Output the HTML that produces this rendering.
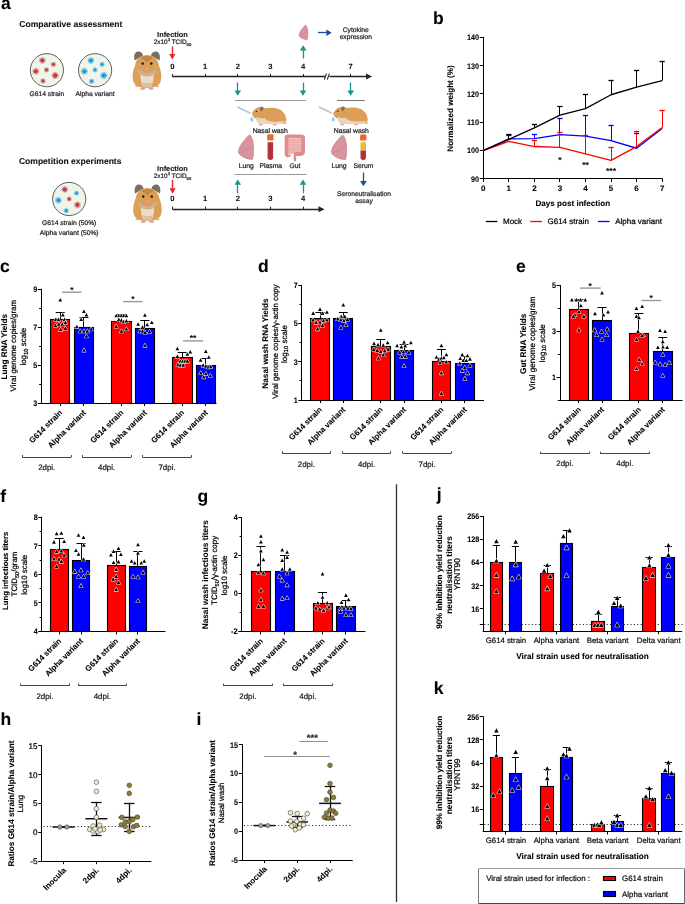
<!DOCTYPE html>
<html><head><meta charset="utf-8"><title>Figure</title>
<style>html,body{margin:0;padding:0;background:#fff;}body{width:685px;height:904px;overflow:hidden;}svg{display:block;font-family:"Liberation Sans", sans-serif;will-change:transform;}</style></head>
<body>
<svg width="685" height="904" viewBox="0 0 685 904" text-rendering="geometricPrecision" font-family='"Liberation Sans", sans-serif'>
<rect width="685" height="904" fill="#fff"/>
<text x="1.00" y="9.40" font-size="17.5" font-weight="bold" text-anchor="start" fill="#000" stroke="#000" stroke-width="0.08">a</text>
<text x="19.30" y="27.20" font-size="8.55" font-weight="bold" text-anchor="start" fill="#111" stroke="#111" stroke-width="0.08">Comparative assessment</text>
<text x="18.90" y="164.10" font-size="8.55" font-weight="bold" text-anchor="start" fill="#111" stroke="#111" stroke-width="0.08">Competition experiments</text>
<circle cx="46.9" cy="70.2" r="16.6" fill="#f0f5ea" stroke="#5e5e5e" stroke-width="1"/>
<path d="M44.00 60.50L45.71 60.50M43.84 61.24L45.37 61.98M43.36 61.83L44.43 63.17M42.68 62.16L43.06 63.82M41.92 62.16L41.54 63.82M41.24 61.83L40.17 63.17M40.76 61.24L39.23 61.98M40.59 60.50L38.89 60.50M40.76 59.76L39.23 59.02M41.24 59.17L40.17 57.83M41.92 58.84L41.54 57.18M42.68 58.84L43.06 57.18M43.36 59.17L44.43 57.83M43.84 59.76L45.37 59.02" stroke="#be3b46" stroke-width="0.7" fill="none" opacity="0.8"/>
<circle cx="42.30" cy="60.50" r="1.98" fill="#be3b46"/>
<path d="M54.66 64.40L55.93 64.40M54.54 64.95L55.68 65.50M54.19 65.39L54.98 66.38M53.68 65.63L53.96 66.87M53.12 65.63L52.84 66.87M52.61 65.39L51.82 66.38M52.26 64.95L51.12 65.50M52.13 64.40L50.87 64.40M52.26 63.85L51.12 63.30M52.61 63.41L51.82 62.42M53.12 63.17L52.84 61.93M53.68 63.17L53.96 61.93M54.19 63.41L54.98 62.42M54.54 63.85L55.68 63.30" stroke="#be3b46" stroke-width="0.7" fill="none" opacity="0.8"/>
<circle cx="53.40" cy="64.40" r="1.47" fill="#be3b46"/>
<path d="M37.56 71.30L39.32 71.30M37.39 72.06L38.97 72.83M36.90 72.68L37.99 74.05M36.19 73.02L36.58 74.73M35.41 73.02L35.02 74.73M34.70 72.68L33.61 74.05M34.21 72.06L32.63 72.83M34.04 71.30L32.28 71.30M34.21 70.54L32.63 69.77M34.70 69.92L33.61 68.55M35.41 69.58L35.02 67.87M36.19 69.58L36.58 67.87M36.90 69.92L37.99 68.55M37.39 70.54L38.97 69.77" stroke="#be3b46" stroke-width="0.7" fill="none" opacity="0.8"/>
<circle cx="35.80" cy="71.30" r="2.04" fill="#be3b46"/>
<path d="M47.77 69.90L49.03 69.90M47.64 70.45L48.78 71.00M47.29 70.89L48.08 71.88M46.78 71.13L47.06 72.37M46.22 71.13L45.94 72.37M45.71 70.89L44.92 71.88M45.36 70.45L44.22 71.00M45.23 69.90L43.97 69.90M45.36 69.35L44.22 68.80M45.71 68.91L44.92 67.92M46.22 68.67L45.94 67.43M46.78 68.67L47.06 67.43M47.29 68.91L48.08 67.92M47.64 69.35L48.78 68.80" stroke="#be3b46" stroke-width="0.7" fill="none" opacity="0.8"/>
<circle cx="46.50" cy="69.90" r="1.47" fill="#be3b46"/>
<path d="M57.07 75.50L58.94 75.50M56.88 76.31L58.57 77.12M56.37 76.96L57.53 78.42M55.62 77.32L56.03 79.15M54.78 77.32L54.37 79.15M54.03 76.96L52.87 78.42M53.52 76.31L51.83 77.12M53.33 75.50L51.46 75.50M53.52 74.69L51.83 73.88M54.03 74.04L52.87 72.58M54.78 73.68L54.37 71.85M55.62 73.68L56.03 71.85M56.37 74.04L57.53 72.58M56.88 74.69L58.57 73.88" stroke="#be3b46" stroke-width="0.7" fill="none" opacity="0.8"/>
<circle cx="55.20" cy="75.50" r="2.17" fill="#be3b46"/>
<path d="M44.27 81.00L45.53 81.00M44.14 81.55L45.28 82.10M43.79 81.99L44.58 82.98M43.28 82.23L43.56 83.47M42.72 82.23L42.44 83.47M42.21 81.99L41.42 82.98M41.86 81.55L40.72 82.10M41.73 81.00L40.47 81.00M41.86 80.45L40.72 79.90M42.21 80.01L41.42 79.02M42.72 79.77L42.44 78.53M43.28 79.77L43.56 78.53M43.79 80.01L44.58 79.02M44.14 80.45L45.28 79.90" stroke="#be3b46" stroke-width="0.7" fill="none" opacity="0.8"/>
<circle cx="43.00" cy="81.00" r="1.47" fill="#be3b46"/>
<circle cx="95.1" cy="70.2" r="16.6" fill="#f0f5ea" stroke="#5e5e5e" stroke-width="1"/>
<path d="M92.61 60.50L94.31 60.50M92.44 61.24L93.97 61.98M91.96 61.83L93.03 63.17M91.28 62.16L91.66 63.82M90.52 62.16L90.14 63.82M89.84 61.83L88.77 63.17M89.36 61.24L87.83 61.98M89.20 60.50L87.49 60.50M89.36 59.76L87.83 59.02M89.84 59.17L88.77 57.83M90.52 58.84L90.14 57.18M91.28 58.84L91.66 57.18M91.96 59.17L93.03 57.83M92.44 59.76L93.97 59.02" stroke="#1c9bd7" stroke-width="0.7" fill="none" opacity="0.8"/>
<circle cx="90.90" cy="60.50" r="1.98" fill="#1c9bd7"/>
<path d="M103.27 64.40L104.53 64.40M103.14 64.95L104.28 65.50M102.79 65.39L103.58 66.38M102.28 65.63L102.56 66.87M101.72 65.63L101.44 66.87M101.21 65.39L100.42 66.38M100.86 64.95L99.72 65.50M100.73 64.40L99.47 64.40M100.86 63.85L99.72 63.30M101.21 63.41L100.42 62.42M101.72 63.17L101.44 61.93M102.28 63.17L102.56 61.93M102.79 63.41L103.58 62.42M103.14 63.85L104.28 63.30" stroke="#1c9bd7" stroke-width="0.7" fill="none" opacity="0.8"/>
<circle cx="102.00" cy="64.40" r="1.47" fill="#1c9bd7"/>
<path d="M86.22 71.30L88.03 71.30M86.04 72.09L87.67 72.87M85.53 72.72L86.66 74.14M84.80 73.07L85.21 74.84M84.00 73.07L83.59 74.84M83.27 72.72L82.14 74.14M82.76 72.09L81.13 72.87M82.59 71.30L80.77 71.30M82.76 70.51L81.13 69.73M83.27 69.88L82.14 68.46M84.00 69.53L83.59 67.76M84.80 69.53L85.21 67.76M85.53 69.88L86.66 68.46M86.04 70.51L87.67 69.73" stroke="#1c9bd7" stroke-width="0.7" fill="none" opacity="0.8"/>
<circle cx="84.40" cy="71.30" r="2.11" fill="#1c9bd7"/>
<path d="M96.27 69.90L97.53 69.90M96.14 70.45L97.28 71.00M95.79 70.89L96.58 71.88M95.28 71.13L95.56 72.37M94.72 71.13L94.44 72.37M94.21 70.89L93.42 71.88M93.86 70.45L92.72 71.00M93.73 69.90L92.47 69.90M93.86 69.35L92.72 68.80M94.21 68.91L93.42 67.92M94.72 68.67L94.44 67.43M95.28 68.67L95.56 67.43M95.79 68.91L96.58 67.92M96.14 69.35L97.28 68.80" stroke="#1c9bd7" stroke-width="0.7" fill="none" opacity="0.8"/>
<circle cx="95.00" cy="69.90" r="1.47" fill="#1c9bd7"/>
<path d="M105.67 75.50L107.54 75.50M105.48 76.31L107.17 77.12M104.97 76.96L106.13 78.42M104.22 77.32L104.63 79.15M103.38 77.32L102.97 79.15M102.63 76.96L101.47 78.42M102.12 76.31L100.43 77.12M101.93 75.50L100.06 75.50M102.12 74.69L100.43 73.88M102.63 74.04L101.47 72.58M103.38 73.68L102.97 71.85M104.22 73.68L104.63 71.85M104.97 74.04L106.13 72.58M105.48 74.69L107.17 73.88" stroke="#1c9bd7" stroke-width="0.7" fill="none" opacity="0.8"/>
<circle cx="103.80" cy="75.50" r="2.17" fill="#1c9bd7"/>
<path d="M92.86 81.30L94.13 81.30M92.74 81.85L93.88 82.40M92.39 82.29L93.18 83.28M91.88 82.53L92.16 83.77M91.32 82.53L91.04 83.77M90.81 82.29L90.02 83.28M90.46 81.85L89.32 82.40M90.33 81.30L89.07 81.30M90.46 80.75L89.32 80.20M90.81 80.31L90.02 79.32M91.32 80.07L91.04 78.83M91.88 80.07L92.16 78.83M92.39 80.31L93.18 79.32M92.74 80.75L93.88 80.20" stroke="#1c9bd7" stroke-width="0.7" fill="none" opacity="0.8"/>
<circle cx="91.60" cy="81.30" r="1.47" fill="#1c9bd7"/>
<text x="46.90" y="95.80" font-size="6.7" text-anchor="middle" fill="#222" stroke="#222" stroke-width="0.22">G614 strain</text>
<text x="95.10" y="95.80" font-size="6.7" text-anchor="middle" fill="#222" stroke="#222" stroke-width="0.22">Alpha variant</text>
<circle cx="69.2" cy="199.0" r="16.6" fill="#f0f5ea" stroke="#5e5e5e" stroke-width="1"/>
<path d="M66.50 189.40L68.21 189.40M66.34 190.14L67.87 190.88M65.86 190.73L66.93 192.07M65.18 191.06L65.56 192.72M64.42 191.06L64.04 192.72M63.74 190.73L62.67 192.07M63.26 190.14L61.73 190.88M63.09 189.40L61.39 189.40M63.26 188.66L61.73 187.92M63.74 188.07L62.67 186.73M64.42 187.74L64.04 186.08M65.18 187.74L65.56 186.08M65.86 188.07L66.93 186.73M66.34 188.66L67.87 187.92" stroke="#be3b46" stroke-width="0.7" fill="none" opacity="0.8"/>
<circle cx="64.80" cy="189.40" r="1.98" fill="#be3b46"/>
<path d="M70.41 199.00L71.62 199.00M70.29 199.52L71.38 200.05M69.95 199.95L70.71 200.89M69.47 200.18L69.74 201.36M68.93 200.18L68.66 201.36M68.45 199.95L67.69 200.89M68.11 199.52L67.02 200.05M67.99 199.00L66.78 199.00M68.11 198.48L67.02 197.95M68.45 198.05L67.69 197.11M68.93 197.82L68.66 196.64M69.47 197.82L69.74 196.64M69.95 198.05L70.71 197.11M70.29 198.48L71.38 197.95" stroke="#be3b46" stroke-width="0.7" fill="none" opacity="0.8"/>
<circle cx="69.20" cy="199.00" r="1.40" fill="#be3b46"/>
<path d="M79.16 204.90L80.92 204.90M78.99 205.66L80.57 206.43M78.50 206.28L79.59 207.65M77.79 206.62L78.18 208.33M77.01 206.62L76.62 208.33M76.30 206.28L75.21 207.65M75.81 205.66L74.23 206.43M75.64 204.90L73.88 204.90M75.81 204.14L74.23 203.37M76.30 203.52L75.21 202.15M77.01 203.18L76.62 201.47M77.79 203.18L78.18 201.47M78.50 203.52L79.59 202.15M78.99 204.14L80.57 203.37" stroke="#be3b46" stroke-width="0.7" fill="none" opacity="0.8"/>
<circle cx="77.40" cy="204.90" r="2.04" fill="#be3b46"/>
<path d="M60.16 200.20L61.92 200.20M59.99 200.96L61.57 201.73M59.50 201.58L60.59 202.95M58.79 201.92L59.18 203.63M58.01 201.92L57.62 203.63M57.30 201.58L56.21 202.95M56.81 200.96L55.23 201.73M56.64 200.20L54.88 200.20M56.81 199.44L55.23 198.67M57.30 198.82L56.21 197.45M58.01 198.48L57.62 196.77M58.79 198.48L59.18 196.77M59.50 198.82L60.59 197.45M59.99 199.44L61.57 198.67" stroke="#1c9bd7" stroke-width="0.7" fill="none" opacity="0.8"/>
<circle cx="58.40" cy="200.20" r="2.04" fill="#1c9bd7"/>
<path d="M77.71 193.20L78.92 193.20M77.59 193.72L78.68 194.25M77.25 194.15L78.01 195.09M76.77 194.38L77.04 195.56M76.23 194.38L75.96 195.56M75.75 194.15L74.99 195.09M75.41 193.72L74.32 194.25M75.29 193.20L74.08 193.20M75.41 192.68L74.32 192.15M75.75 192.25L74.99 191.31M76.23 192.02L75.96 190.84M76.77 192.02L77.04 190.84M77.25 192.25L78.01 191.31M77.59 192.68L78.68 192.15" stroke="#1c9bd7" stroke-width="0.7" fill="none" opacity="0.8"/>
<circle cx="76.50" cy="193.20" r="1.40" fill="#1c9bd7"/>
<path d="M67.56 210.70L68.83 210.70M67.44 211.25L68.58 211.80M67.09 211.69L67.88 212.68M66.58 211.93L66.86 213.17M66.02 211.93L65.74 213.17M65.51 211.69L64.72 212.68M65.16 211.25L64.02 211.80M65.03 210.70L63.77 210.70M65.16 210.15L64.02 209.60M65.51 209.71L64.72 208.72M66.02 209.47L65.74 208.23M66.58 209.47L66.86 208.23M67.09 209.71L67.88 208.72M67.44 210.15L68.58 209.60" stroke="#1c9bd7" stroke-width="0.7" fill="none" opacity="0.8"/>
<circle cx="66.30" cy="210.70" r="1.47" fill="#1c9bd7"/>
<text x="69.20" y="224.80" font-size="6.7" text-anchor="middle" fill="#222" stroke="#222" stroke-width="0.22">G614 strain (50%)</text>
<text x="69.20" y="235.00" font-size="6.7" text-anchor="middle" fill="#222" stroke="#222" stroke-width="0.22">Alpha variant (50%)</text>
<g transform="translate(132.30 51.00)">
<path d="M2.2 9.5 C1.2 5 2.2 1.2 5.5 0.6 C8 0.3 10 2 10.8 4.5 Z" fill="#78705f"/>
<path d="M27.2 9.5 C28.2 5 27.2 1.2 23.9 0.6 C21.4 0.3 19.4 2 18.6 4.5 Z" fill="#78705f"/>
<ellipse cx="10.6" cy="37.6" rx="2.6" ry="1.3" fill="#e6a197"/>
<ellipse cx="18.8" cy="37.6" rx="2.6" ry="1.3" fill="#e6a197"/>
<ellipse cx="4.6" cy="35.2" rx="2" ry="1.0" fill="#e8b0a5"/>
<ellipse cx="24.8" cy="35.2" rx="2" ry="1.0" fill="#e8b0a5"/>
<path d="M14.7 4.3 C21.5 4.3 25.8 8.5 26.6 14.5 C29 20 30 27 27.8 31.8 C25.8 35.6 21 36.8 14.7 36.8 C8.4 36.8 3.6 35.6 1.6 31.8 C-0.6 27 0.4 20 2.8 14.5 C3.6 8.5 7.9 4.3 14.7 4.3 Z" fill="#dd9f58"/>
<path d="M14.7 4.4 C17.8 4.4 19.8 5.6 20.6 7.4 C18.2 8 16 9.6 14.7 11.8 C13.4 9.6 11.2 8 8.8 7.4 C9.6 5.6 11.6 4.4 14.7 4.4Z" fill="#c48647"/>
<path d="M8.4 21.5 C11.5 23.5 17.9 23.5 21 21.5 C21.8 26 21 31 19.2 35.2 C16.8 36.3 12.6 36.3 10.2 35.2 C8.4 31 7.6 26 8.4 21.5Z" fill="#ecdcc6"/>
<path d="M9.6 31.2 C12.3 32.4 17.1 32.4 19.8 31.2 C19.6 32.6 19.4 34 19.2 35.2 C16.8 36.3 12.6 36.3 10.2 35.2 C10 34 9.8 32.6 9.6 31.2Z" fill="#d8c2a6"/>
<path d="M4.6 17.6 L6 19.4 L7.2 18.4 L8.2 20.6 L9.6 19.8 L10.6 22 L12 21.2 L13 23 L14.7 22.2 L16.4 23 L17.4 21.2 L18.8 22 L19.8 19.8 L21.2 20.6 L22.2 18.4 L23.4 19.4 L24.8 17.6 C24 22.5 20.5 25.6 14.7 25.6 C8.9 25.6 5.4 22.5 4.6 17.6Z" fill="#c9b49a"/>
<path d="M13.4 22.6 Q14.7 23.6 16 22.6" stroke="#e39a9a" stroke-width="0.8" fill="none"/>
<ellipse cx="10.4" cy="12.6" rx="1.2" ry="1.4" fill="#1e1e1e"/>
<ellipse cx="19.0" cy="12.6" rx="1.2" ry="1.4" fill="#1e1e1e"/>
<ellipse cx="14.7" cy="17.4" rx="1.3" ry="1" fill="#eba1a0"/>
</g>
<g transform="translate(132.80 184.00)">
<path d="M2.2 9.5 C1.2 5 2.2 1.2 5.5 0.6 C8 0.3 10 2 10.8 4.5 Z" fill="#78705f"/>
<path d="M27.2 9.5 C28.2 5 27.2 1.2 23.9 0.6 C21.4 0.3 19.4 2 18.6 4.5 Z" fill="#78705f"/>
<ellipse cx="10.6" cy="37.6" rx="2.6" ry="1.3" fill="#e6a197"/>
<ellipse cx="18.8" cy="37.6" rx="2.6" ry="1.3" fill="#e6a197"/>
<ellipse cx="4.6" cy="35.2" rx="2" ry="1.0" fill="#e8b0a5"/>
<ellipse cx="24.8" cy="35.2" rx="2" ry="1.0" fill="#e8b0a5"/>
<path d="M14.7 4.3 C21.5 4.3 25.8 8.5 26.6 14.5 C29 20 30 27 27.8 31.8 C25.8 35.6 21 36.8 14.7 36.8 C8.4 36.8 3.6 35.6 1.6 31.8 C-0.6 27 0.4 20 2.8 14.5 C3.6 8.5 7.9 4.3 14.7 4.3 Z" fill="#dd9f58"/>
<path d="M14.7 4.4 C17.8 4.4 19.8 5.6 20.6 7.4 C18.2 8 16 9.6 14.7 11.8 C13.4 9.6 11.2 8 8.8 7.4 C9.6 5.6 11.6 4.4 14.7 4.4Z" fill="#c48647"/>
<path d="M8.4 21.5 C11.5 23.5 17.9 23.5 21 21.5 C21.8 26 21 31 19.2 35.2 C16.8 36.3 12.6 36.3 10.2 35.2 C8.4 31 7.6 26 8.4 21.5Z" fill="#ecdcc6"/>
<path d="M9.6 31.2 C12.3 32.4 17.1 32.4 19.8 31.2 C19.6 32.6 19.4 34 19.2 35.2 C16.8 36.3 12.6 36.3 10.2 35.2 C10 34 9.8 32.6 9.6 31.2Z" fill="#d8c2a6"/>
<path d="M4.6 17.6 L6 19.4 L7.2 18.4 L8.2 20.6 L9.6 19.8 L10.6 22 L12 21.2 L13 23 L14.7 22.2 L16.4 23 L17.4 21.2 L18.8 22 L19.8 19.8 L21.2 20.6 L22.2 18.4 L23.4 19.4 L24.8 17.6 C24 22.5 20.5 25.6 14.7 25.6 C8.9 25.6 5.4 22.5 4.6 17.6Z" fill="#c9b49a"/>
<path d="M13.4 22.6 Q14.7 23.6 16 22.6" stroke="#e39a9a" stroke-width="0.8" fill="none"/>
<ellipse cx="10.4" cy="12.6" rx="1.2" ry="1.4" fill="#1e1e1e"/>
<ellipse cx="19.0" cy="12.6" rx="1.2" ry="1.4" fill="#1e1e1e"/>
<ellipse cx="14.7" cy="17.4" rx="1.3" ry="1" fill="#eba1a0"/>
</g>
<text x="172.50" y="37.00" font-size="7.4" font-weight="bold" text-anchor="middle" fill="#111" stroke="#111" stroke-width="0.08">Infection</text>
<text x="172.50" y="44.00" font-size="6.4" text-anchor="middle" fill="#222" stroke="#222" stroke-width="0.22">2x10<tspan font-size="4.2" dy="-2.6">3</tspan><tspan dy="2.6"> TCID</tspan><tspan font-size="4.2" dy="1.6">50</tspan></text>
<text x="172.50" y="170.50" font-size="7.4" font-weight="bold" text-anchor="middle" fill="#111" stroke="#111" stroke-width="0.08">Infection</text>
<text x="172.50" y="178.00" font-size="6.4" text-anchor="middle" fill="#222" stroke="#222" stroke-width="0.22">2x10<tspan font-size="4.2" dy="-2.6">3</tspan><tspan dy="2.6"> TCID</tspan><tspan font-size="4.2" dy="1.6">50</tspan></text>
<line x1="172.50" y1="46.50" x2="172.50" y2="54.50" stroke="#e8232f" stroke-width="1.4"/>
<path d="M169.20 54.00L175.40 54.00L172.30 59.50Z" fill="#e8232f"/>
<line x1="172.50" y1="180.00" x2="172.50" y2="188.80" stroke="#e8232f" stroke-width="1.4"/>
<path d="M169.50 188.30L175.70 188.30L172.60 193.80Z" fill="#e8232f"/>
<line x1="172.30" y1="76.50" x2="367.00" y2="76.50" stroke="#222" stroke-width="1.3"/>
<path d="M366.00 73.60L372.00 76.60L366.00 79.60Z" fill="#222"/>
<line x1="172.50" y1="74.00" x2="172.50" y2="76.60" stroke="#222" stroke-width="1"/>
<text x="172.30" y="68.70" font-size="7.6" font-weight="bold" text-anchor="middle" fill="#111" stroke="#111" stroke-width="0.08">0</text>
<line x1="205.50" y1="74.00" x2="205.50" y2="76.60" stroke="#222" stroke-width="1"/>
<text x="205.00" y="68.70" font-size="7.6" font-weight="bold" text-anchor="middle" fill="#111" stroke="#111" stroke-width="0.08">1</text>
<line x1="237.50" y1="74.00" x2="237.50" y2="76.60" stroke="#222" stroke-width="1"/>
<text x="237.80" y="68.70" font-size="7.6" font-weight="bold" text-anchor="middle" fill="#111" stroke="#111" stroke-width="0.08">2</text>
<line x1="270.50" y1="74.00" x2="270.50" y2="76.60" stroke="#222" stroke-width="1"/>
<text x="270.40" y="68.70" font-size="7.6" font-weight="bold" text-anchor="middle" fill="#111" stroke="#111" stroke-width="0.08">3</text>
<line x1="303.50" y1="74.00" x2="303.50" y2="76.60" stroke="#222" stroke-width="1"/>
<text x="303.00" y="68.70" font-size="7.6" font-weight="bold" text-anchor="middle" fill="#111" stroke="#111" stroke-width="0.08">4</text>
<line x1="350.50" y1="74.00" x2="350.50" y2="76.60" stroke="#222" stroke-width="1"/>
<text x="350.70" y="68.70" font-size="7.6" font-weight="bold" text-anchor="middle" fill="#111" stroke="#111" stroke-width="0.08">7</text>
<line x1="172.50" y1="74.00" x2="172.50" y2="76.60" stroke="#222" stroke-width="1"/>
<rect x="325.00" y="73.60" width="4.5" height="6" fill="#fff"/>
<line x1="324.30" y1="79.60" x2="326.50" y2="73.60" stroke="#222" stroke-width="1.1"/>
<line x1="327.20" y1="79.60" x2="329.40" y2="73.60" stroke="#222" stroke-width="1.1"/>
<line x1="172.60" y1="209.50" x2="319.50" y2="209.50" stroke="#222" stroke-width="1.3"/>
<path d="M318.50 206.30L324.50 209.30L318.50 212.30Z" fill="#222"/>
<line x1="172.50" y1="206.70" x2="172.50" y2="209.30" stroke="#222" stroke-width="1"/>
<text x="172.30" y="201.40" font-size="7.6" font-weight="bold" text-anchor="middle" fill="#111" stroke="#111" stroke-width="0.08">0</text>
<line x1="205.50" y1="206.70" x2="205.50" y2="209.30" stroke="#222" stroke-width="1"/>
<text x="205.00" y="201.40" font-size="7.6" font-weight="bold" text-anchor="middle" fill="#111" stroke="#111" stroke-width="0.08">1</text>
<line x1="237.50" y1="206.70" x2="237.50" y2="209.30" stroke="#222" stroke-width="1"/>
<text x="237.80" y="201.40" font-size="7.6" font-weight="bold" text-anchor="middle" fill="#111" stroke="#111" stroke-width="0.08">2</text>
<line x1="270.50" y1="206.70" x2="270.50" y2="209.30" stroke="#222" stroke-width="1"/>
<text x="270.40" y="201.40" font-size="7.6" font-weight="bold" text-anchor="middle" fill="#111" stroke="#111" stroke-width="0.08">3</text>
<line x1="303.50" y1="206.70" x2="303.50" y2="209.30" stroke="#222" stroke-width="1"/>
<text x="303.00" y="201.40" font-size="7.6" font-weight="bold" text-anchor="middle" fill="#111" stroke="#111" stroke-width="0.08">4</text>
<line x1="172.50" y1="206.70" x2="172.50" y2="209.30" stroke="#222" stroke-width="1"/>
<line x1="237.50" y1="82.50" x2="237.50" y2="91.10" stroke="#17968f" stroke-width="1.3"/>
<path d="M234.50 90.60L241.10 90.60L237.80 95.80Z" fill="#17968f"/>
<line x1="303.50" y1="82.50" x2="303.50" y2="91.10" stroke="#17968f" stroke-width="1.3"/>
<path d="M299.70 90.60L306.30 90.60L303.00 95.80Z" fill="#17968f"/>
<line x1="350.50" y1="82.50" x2="350.50" y2="91.10" stroke="#17968f" stroke-width="1.3"/>
<path d="M347.40 90.60L354.00 90.60L350.70 95.80Z" fill="#17968f"/>
<line x1="303.50" y1="58.60" x2="303.50" y2="49.90" stroke="#17968f" stroke-width="1.3"/>
<path d="M299.90 50.40L306.50 50.40L303.20 45.20Z" fill="#17968f"/>
<line x1="237.50" y1="193.20" x2="237.50" y2="184.30" stroke="#17968f" stroke-width="1.3"/>
<path d="M234.50 184.80L241.10 184.80L237.80 179.60Z" fill="#17968f"/>
<line x1="303.50" y1="193.20" x2="303.50" y2="184.30" stroke="#17968f" stroke-width="1.3"/>
<path d="M299.70 184.80L306.30 184.80L303.00 179.60Z" fill="#17968f"/>
<g transform="translate(298.80 24.90) scale(0.594 0.596)">
<path d="M11.5 0.3 C13.8 2 15.2 7 15.4 13 C15.6 18.5 15.2 22.5 14.3 25 C11 25.3 7 23.8 4 22 C1.5 20.5 0 19 0.2 17 C0.5 13.5 3 9.5 6 6 C8 3.5 10 1.2 11.5 0.3Z" fill="#d8939c" stroke="#c57d87" stroke-width="0.6"/>
<path d="M2.5 18.5 C6 16 10 14 15 11" stroke="#c47a85" stroke-width="0.5" fill="none"/>
</g>
<line x1="318.00" y1="32.50" x2="326.90" y2="32.50" stroke="#1c4f91" stroke-width="1.3"/>
<path d="M326.40 29.40L326.40 36.00L331.60 32.70Z" fill="#1c4f91"/>
<text x="355.80" y="32.00" font-size="6.7" text-anchor="middle" fill="#222" stroke="#222" stroke-width="0.22">Cytokine</text>
<text x="355.80" y="39.00" font-size="6.7" text-anchor="middle" fill="#222" stroke="#222" stroke-width="0.22">expression</text>
<line x1="235.00" y1="100.50" x2="306.30" y2="100.50" stroke="#9a9a9a" stroke-width="1"/>
<line x1="337.00" y1="100.50" x2="364.80" y2="100.50" stroke="#777" stroke-width="1"/>
<line x1="234.50" y1="174.50" x2="306.40" y2="174.50" stroke="#9a9a9a" stroke-width="1"/>
<line x1="237.50" y1="107.00" x2="250.40" y2="113.20" stroke="#a9c6d6" stroke-width="1.6"/>
<path d="M251.80 116.70 C252.40 117.80 253.40 118.70 253.40 119.80 C253.40 120.80 252.60 121.40 251.80 121.40 C251.00 121.40 250.20 120.80 250.20 119.80 C250.20 118.70 251.20 117.80 251.80 116.70Z" fill="#8fcff0"/>
<g transform="translate(251.80 106.30)">
<ellipse cx="9" cy="18.2" rx="2" ry="0.9" fill="#e8a49a"/>
<ellipse cx="23" cy="18.3" rx="2.2" ry="0.9" fill="#e8a49a"/>
<ellipse cx="33.5" cy="17" rx="1.6" ry="0.8" fill="#e8a49a"/>
<path d="M0.3 6.8 C1.5 4 4 1.5 7.5 0.8 C10 0.4 12 1 13.5 2 C17 1.2 23 1.3 27.5 3 C32 5 34.5 9.5 34.5 13.5 C34.5 16.5 32 17.8 28 17.8 L10 17.8 C6.5 17.8 5 15 4.5 12.5 C2.5 11.5 0 10 0.3 6.8Z" fill="#dd9f58"/>
<path d="M4.5 10.5 C7 12 10 12.5 12.5 11.5 C14 14 18 15.5 24 15.5 C28 15.5 31 15 33 14.8 C32.5 16.8 30.5 17.8 28 17.8 L10 17.8 C7 17.8 5.5 15 4.5 12.5Z" fill="#e9d5bd"/>
<ellipse cx="9.8" cy="2.6" rx="1.7" ry="2.3" fill="#7b7466" transform="rotate(20 9.8 2.6)"/>
<circle cx="4.6" cy="5.2" r="0.8" fill="#222"/>
<circle cx="0.6" cy="7.2" r="0.7" fill="#e8a0a0"/>
</g>
<line x1="318.90" y1="107.00" x2="331.60" y2="113.00" stroke="#a9c6d6" stroke-width="1.6"/>
<path d="M333.20 116.70 C333.80 117.80 334.80 118.70 334.80 119.80 C334.80 120.80 334.00 121.40 333.20 121.40 C332.40 121.40 331.60 120.80 331.60 119.80 C331.60 118.70 332.60 117.80 333.20 116.70Z" fill="#8fcff0"/>
<g transform="translate(333.20 106.10)">
<ellipse cx="9" cy="18.2" rx="2" ry="0.9" fill="#e8a49a"/>
<ellipse cx="23" cy="18.3" rx="2.2" ry="0.9" fill="#e8a49a"/>
<ellipse cx="33.5" cy="17" rx="1.6" ry="0.8" fill="#e8a49a"/>
<path d="M0.3 6.8 C1.5 4 4 1.5 7.5 0.8 C10 0.4 12 1 13.5 2 C17 1.2 23 1.3 27.5 3 C32 5 34.5 9.5 34.5 13.5 C34.5 16.5 32 17.8 28 17.8 L10 17.8 C6.5 17.8 5 15 4.5 12.5 C2.5 11.5 0 10 0.3 6.8Z" fill="#dd9f58"/>
<path d="M4.5 10.5 C7 12 10 12.5 12.5 11.5 C14 14 18 15.5 24 15.5 C28 15.5 31 15 33 14.8 C32.5 16.8 30.5 17.8 28 17.8 L10 17.8 C7 17.8 5.5 15 4.5 12.5Z" fill="#e9d5bd"/>
<ellipse cx="9.8" cy="2.6" rx="1.7" ry="2.3" fill="#7b7466" transform="rotate(20 9.8 2.6)"/>
<circle cx="4.6" cy="5.2" r="0.8" fill="#222"/>
<circle cx="0.6" cy="7.2" r="0.7" fill="#e8a0a0"/>
</g>
<text x="270.20" y="132.90" font-size="6.8" text-anchor="middle" fill="#222" stroke="#222" stroke-width="0.22">Nasal wash</text>
<text x="351.30" y="132.90" font-size="6.8" text-anchor="middle" fill="#222" stroke="#222" stroke-width="0.22">Nasal wash</text>
<g transform="translate(238.20 134.40) scale(1.000 1.000)">
<path d="M11.5 0.3 C13.8 2 15.2 7 15.4 13 C15.6 18.5 15.2 22.5 14.3 25 C11 25.3 7 23.8 4 22 C1.5 20.5 0 19 0.2 17 C0.5 13.5 3 9.5 6 6 C8 3.5 10 1.2 11.5 0.3Z" fill="#d8939c" stroke="#c57d87" stroke-width="0.6"/>
<path d="M2.5 18.5 C6 16 10 14 15 11" stroke="#c47a85" stroke-width="0.5" fill="none"/>
</g>
<rect x="267.20" y="134.30" width="6.3" height="6.4" rx="1.2" fill="#e8692a"/>
<rect x="267.60" y="140.50" width="5.50" height="1.7" fill="#f4f0ee"/>
<path d="M267.60 142.20 L273.10 142.20 L273.10 158.50 Q270.35 161.60 267.60 158.50Z" fill="#b0323a"/>
<g transform="translate(284.50 134.40)">
<rect x="3.2" y="4" width="13.6" height="15.5" fill="#f3bcb7"/>
<circle cx="4.5" cy="5.6" r="0.75" fill="#e49c99"/>
<circle cx="5.4" cy="8.0" r="0.75" fill="#e49c99"/>
<circle cx="4.5" cy="10.4" r="0.75" fill="#e49c99"/>
<circle cx="5.4" cy="12.8" r="0.75" fill="#e49c99"/>
<circle cx="4.5" cy="15.2" r="0.75" fill="#e49c99"/>
<circle cx="5.4" cy="17.6" r="0.75" fill="#e49c99"/>
<circle cx="6.8" cy="5.6" r="0.75" fill="#e49c99"/>
<circle cx="7.7" cy="8.0" r="0.75" fill="#e49c99"/>
<circle cx="6.8" cy="10.4" r="0.75" fill="#e49c99"/>
<circle cx="7.7" cy="12.8" r="0.75" fill="#e49c99"/>
<circle cx="6.8" cy="15.2" r="0.75" fill="#e49c99"/>
<circle cx="7.7" cy="17.6" r="0.75" fill="#e49c99"/>
<circle cx="9.1" cy="5.6" r="0.75" fill="#e49c99"/>
<circle cx="10.0" cy="8.0" r="0.75" fill="#e49c99"/>
<circle cx="9.1" cy="10.4" r="0.75" fill="#e49c99"/>
<circle cx="10.0" cy="12.8" r="0.75" fill="#e49c99"/>
<circle cx="9.1" cy="15.2" r="0.75" fill="#e49c99"/>
<circle cx="10.0" cy="17.6" r="0.75" fill="#e49c99"/>
<circle cx="11.4" cy="5.6" r="0.75" fill="#e49c99"/>
<circle cx="12.3" cy="8.0" r="0.75" fill="#e49c99"/>
<circle cx="11.4" cy="10.4" r="0.75" fill="#e49c99"/>
<circle cx="12.3" cy="12.8" r="0.75" fill="#e49c99"/>
<circle cx="11.4" cy="15.2" r="0.75" fill="#e49c99"/>
<circle cx="12.3" cy="17.6" r="0.75" fill="#e49c99"/>
<circle cx="13.7" cy="5.6" r="0.75" fill="#e49c99"/>
<circle cx="14.6" cy="8.0" r="0.75" fill="#e49c99"/>
<circle cx="13.7" cy="10.4" r="0.75" fill="#e49c99"/>
<circle cx="14.6" cy="12.8" r="0.75" fill="#e49c99"/>
<circle cx="13.7" cy="15.2" r="0.75" fill="#e49c99"/>
<circle cx="14.6" cy="17.6" r="0.75" fill="#e49c99"/>
<circle cx="16.0" cy="5.6" r="0.75" fill="#e49c99"/>
<circle cx="16.9" cy="8.0" r="0.75" fill="#e49c99"/>
<circle cx="16.0" cy="10.4" r="0.75" fill="#e49c99"/>
<circle cx="16.9" cy="12.8" r="0.75" fill="#e49c99"/>
<circle cx="16.0" cy="15.2" r="0.75" fill="#e49c99"/>
<circle cx="16.9" cy="17.6" r="0.75" fill="#e49c99"/>
<path d="M2 21.2 L2 3.2 Q2 1.9 3.6 1.9 L16.9 1.9 Q18.6 1.9 18.6 3.6 L18.6 17.4 Q18.6 19.6 16 19.6 L11.5 19.6" stroke="#dc8d90" stroke-width="3.8" fill="none" stroke-linejoin="round"/>
<path d="M10.6 19 L10.4 25.8" stroke="#dc8d90" stroke-width="2.4" fill="none" stroke-linecap="round"/>
<path d="M2 21.5 Q3.5 22.5 5.5 21" stroke="#dc8d90" stroke-width="2" fill="none" stroke-linecap="round"/>
</g>
<g transform="translate(331.20 134.60) scale(1.000 1.000)">
<path d="M11.5 0.3 C13.8 2 15.2 7 15.4 13 C15.6 18.5 15.2 22.5 14.3 25 C11 25.3 7 23.8 4 22 C1.5 20.5 0 19 0.2 17 C0.5 13.5 3 9.5 6 6 C8 3.5 10 1.2 11.5 0.3Z" fill="#d8939c" stroke="#c57d87" stroke-width="0.6"/>
<path d="M2.5 18.5 C6 16 10 14 15 11" stroke="#c47a85" stroke-width="0.5" fill="none"/>
</g>
<rect x="360.10" y="134.40" width="6.3" height="6.4" rx="1.2" fill="#e8692a"/>
<rect x="360.50" y="140.60" width="5.50" height="1.7" fill="#f4f0ee"/>
<rect x="360.50" y="142.30" width="5.50" height="8.2" fill="#e8bd34"/>
<path d="M360.50 150.50 L366.00 150.50 L366.00 158.60 Q363.25 161.70 360.50 158.60Z" fill="#b0323a"/>
<text x="246.30" y="167.60" font-size="6.8" text-anchor="middle" fill="#222" stroke="#222" stroke-width="0.22">Lung</text>
<text x="270.80" y="167.60" font-size="6.8" text-anchor="middle" fill="#222" stroke="#222" stroke-width="0.22">Plasma</text>
<text x="295.00" y="167.60" font-size="6.8" text-anchor="middle" fill="#222" stroke="#222" stroke-width="0.22">Gut</text>
<text x="339.10" y="167.60" font-size="6.8" text-anchor="middle" fill="#222" stroke="#222" stroke-width="0.22">Lung</text>
<text x="363.50" y="167.60" font-size="6.8" text-anchor="middle" fill="#222" stroke="#222" stroke-width="0.22">Serum</text>
<line x1="363.50" y1="172.60" x2="363.50" y2="181.50" stroke="#1c4f91" stroke-width="1.3"/>
<path d="M360.10 181.00L366.70 181.00L363.40 186.20Z" fill="#1c4f91"/>
<text x="364.00" y="196.00" font-size="6.7" text-anchor="middle" fill="#222" stroke="#222" stroke-width="0.22">Seroneutralisation</text>
<text x="364.00" y="202.50" font-size="6.7" text-anchor="middle" fill="#222" stroke="#222" stroke-width="0.22">assay</text>
<text x="433.00" y="24.20" font-size="17.5" font-weight="bold" text-anchor="start" fill="#000" stroke="#000" stroke-width="0.08">b</text>
<line x1="483.50" y1="36.80" x2="483.50" y2="179.40" stroke="#000" stroke-width="1"/>
<line x1="482.70" y1="178.50" x2="662.75" y2="178.50" stroke="#000" stroke-width="1"/>
<line x1="479.80" y1="178.50" x2="483.30" y2="178.50" stroke="#000" stroke-width="1"/>
<text x="479.10" y="181.70" font-size="8.0" font-weight="bold" text-anchor="end" fill="#000" stroke="#000" stroke-width="0.08" textLength="8.0" lengthAdjust="spacingAndGlyphs">90</text>
<line x1="479.80" y1="150.50" x2="483.30" y2="150.50" stroke="#000" stroke-width="1"/>
<text x="479.10" y="153.40" font-size="8.0" font-weight="bold" text-anchor="end" fill="#000" stroke="#000" stroke-width="0.08" textLength="12.0" lengthAdjust="spacingAndGlyphs">100</text>
<line x1="479.80" y1="122.50" x2="483.30" y2="122.50" stroke="#000" stroke-width="1"/>
<text x="479.10" y="125.10" font-size="8.0" font-weight="bold" text-anchor="end" fill="#000" stroke="#000" stroke-width="0.08" textLength="12.0" lengthAdjust="spacingAndGlyphs">110</text>
<line x1="479.80" y1="93.50" x2="483.30" y2="93.50" stroke="#000" stroke-width="1"/>
<text x="479.10" y="96.80" font-size="8.0" font-weight="bold" text-anchor="end" fill="#000" stroke="#000" stroke-width="0.08" textLength="12.0" lengthAdjust="spacingAndGlyphs">120</text>
<line x1="479.80" y1="65.50" x2="483.30" y2="65.50" stroke="#000" stroke-width="1"/>
<text x="479.10" y="68.50" font-size="8.0" font-weight="bold" text-anchor="end" fill="#000" stroke="#000" stroke-width="0.08" textLength="12.0" lengthAdjust="spacingAndGlyphs">130</text>
<line x1="479.80" y1="37.50" x2="483.30" y2="37.50" stroke="#000" stroke-width="1"/>
<text x="479.10" y="40.20" font-size="8.0" font-weight="bold" text-anchor="end" fill="#000" stroke="#000" stroke-width="0.08" textLength="12.0" lengthAdjust="spacingAndGlyphs">140</text>
<line x1="483.50" y1="178.80" x2="483.50" y2="182.00" stroke="#000" stroke-width="1"/>
<text x="483.30" y="191.30" font-size="8" font-weight="bold" text-anchor="middle" fill="#000" stroke="#000" stroke-width="0.08">0</text>
<line x1="508.50" y1="178.80" x2="508.50" y2="182.00" stroke="#000" stroke-width="1"/>
<text x="508.85" y="191.30" font-size="8" font-weight="bold" text-anchor="middle" fill="#000" stroke="#000" stroke-width="0.08">1</text>
<line x1="534.50" y1="178.80" x2="534.50" y2="182.00" stroke="#000" stroke-width="1"/>
<text x="534.40" y="191.30" font-size="8" font-weight="bold" text-anchor="middle" fill="#000" stroke="#000" stroke-width="0.08">2</text>
<line x1="559.50" y1="178.80" x2="559.50" y2="182.00" stroke="#000" stroke-width="1"/>
<text x="559.95" y="191.30" font-size="8" font-weight="bold" text-anchor="middle" fill="#000" stroke="#000" stroke-width="0.08">3</text>
<line x1="585.50" y1="178.80" x2="585.50" y2="182.00" stroke="#000" stroke-width="1"/>
<text x="585.50" y="191.30" font-size="8" font-weight="bold" text-anchor="middle" fill="#000" stroke="#000" stroke-width="0.08">4</text>
<line x1="611.50" y1="178.80" x2="611.50" y2="182.00" stroke="#000" stroke-width="1"/>
<text x="611.05" y="191.30" font-size="8" font-weight="bold" text-anchor="middle" fill="#000" stroke="#000" stroke-width="0.08">5</text>
<line x1="636.50" y1="178.80" x2="636.50" y2="182.00" stroke="#000" stroke-width="1"/>
<text x="636.60" y="191.30" font-size="8" font-weight="bold" text-anchor="middle" fill="#000" stroke="#000" stroke-width="0.08">6</text>
<line x1="662.50" y1="178.80" x2="662.50" y2="182.00" stroke="#000" stroke-width="1"/>
<text x="662.15" y="191.30" font-size="8" font-weight="bold" text-anchor="middle" fill="#000" stroke="#000" stroke-width="0.08">7</text>
<text x="572.80" y="205.60" font-size="8.1" font-weight="bold" text-anchor="middle" fill="#000" stroke="#000" stroke-width="0.08">Days post infection</text>
<text x="453.20" y="108.50" font-size="8.1" font-weight="bold" text-anchor="middle" fill="#000" stroke="#000" stroke-width="0.08" transform="rotate(-90 453.20 108.50)">Normalized weight (%)</text>
<line x1="508.50" y1="138.90" x2="508.50" y2="135.22" stroke="#0000ff" stroke-width="1"/>
<line x1="506.25" y1="135.50" x2="511.45" y2="135.50" stroke="#0000ff" stroke-width="1.3"/>
<line x1="534.50" y1="138.61" x2="534.50" y2="134.09" stroke="#0000ff" stroke-width="1"/>
<line x1="531.80" y1="134.50" x2="537.00" y2="134.50" stroke="#0000ff" stroke-width="1.3"/>
<line x1="559.50" y1="134.65" x2="559.50" y2="118.52" stroke="#0000ff" stroke-width="1"/>
<line x1="557.35" y1="118.50" x2="562.55" y2="118.50" stroke="#0000ff" stroke-width="1.3"/>
<line x1="585.50" y1="136.07" x2="585.50" y2="115.69" stroke="#0000ff" stroke-width="1"/>
<line x1="582.90" y1="115.50" x2="588.10" y2="115.50" stroke="#0000ff" stroke-width="1.3"/>
<line x1="611.50" y1="140.59" x2="611.50" y2="125.31" stroke="#0000ff" stroke-width="1"/>
<line x1="608.45" y1="125.50" x2="613.65" y2="125.50" stroke="#0000ff" stroke-width="1.3"/>
<line x1="636.50" y1="148.24" x2="636.50" y2="133.24" stroke="#0000ff" stroke-width="1"/>
<line x1="634.00" y1="133.50" x2="639.20" y2="133.50" stroke="#0000ff" stroke-width="1.3"/>
<polyline points="483.30,150.50 508.85,138.90 534.40,138.61 559.95,134.65 585.50,136.07 611.05,140.59 636.60,148.24 662.15,128.43" fill="none" stroke="#0000ff" stroke-width="1.35" stroke-linejoin="round"/>
<line x1="534.50" y1="146.54" x2="534.50" y2="140.31" stroke="#ff0000" stroke-width="1"/>
<line x1="531.80" y1="140.50" x2="537.00" y2="140.50" stroke="#ff0000" stroke-width="1.3"/>
<line x1="559.50" y1="147.39" x2="559.50" y2="132.67" stroke="#ff0000" stroke-width="1"/>
<line x1="557.35" y1="132.50" x2="562.55" y2="132.50" stroke="#ff0000" stroke-width="1.3"/>
<line x1="585.50" y1="153.90" x2="585.50" y2="135.78" stroke="#ff0000" stroke-width="1"/>
<line x1="582.90" y1="135.50" x2="588.10" y2="135.50" stroke="#ff0000" stroke-width="1.3"/>
<line x1="611.50" y1="160.41" x2="611.50" y2="147.95" stroke="#ff0000" stroke-width="1"/>
<line x1="608.45" y1="147.50" x2="613.65" y2="147.50" stroke="#ff0000" stroke-width="1.3"/>
<line x1="636.50" y1="146.54" x2="636.50" y2="131.82" stroke="#ff0000" stroke-width="1"/>
<line x1="634.00" y1="131.50" x2="639.20" y2="131.50" stroke="#ff0000" stroke-width="1.3"/>
<line x1="662.50" y1="127.58" x2="662.50" y2="110.88" stroke="#ff0000" stroke-width="1"/>
<line x1="659.55" y1="110.50" x2="664.75" y2="110.50" stroke="#ff0000" stroke-width="1.3"/>
<polyline points="483.30,150.50 508.85,141.44 534.40,146.54 559.95,147.39 585.50,153.90 611.05,160.41 636.60,146.54 662.15,127.58" fill="none" stroke="#ff0000" stroke-width="1.35" stroke-linejoin="round"/>
<line x1="508.50" y1="139.46" x2="508.50" y2="134.94" stroke="#000" stroke-width="1"/>
<line x1="506.25" y1="134.50" x2="511.45" y2="134.50" stroke="#000" stroke-width="1.3"/>
<line x1="534.50" y1="127.86" x2="534.50" y2="124.18" stroke="#000" stroke-width="1"/>
<line x1="531.80" y1="124.50" x2="537.00" y2="124.50" stroke="#000" stroke-width="1.3"/>
<line x1="559.50" y1="115.12" x2="559.50" y2="106.07" stroke="#000" stroke-width="1"/>
<line x1="557.35" y1="106.50" x2="562.55" y2="106.50" stroke="#000" stroke-width="1.3"/>
<line x1="585.50" y1="108.62" x2="585.50" y2="94.75" stroke="#000" stroke-width="1"/>
<line x1="582.90" y1="94.50" x2="588.10" y2="94.50" stroke="#000" stroke-width="1.3"/>
<line x1="611.50" y1="94.75" x2="611.50" y2="80.88" stroke="#000" stroke-width="1"/>
<line x1="608.45" y1="80.50" x2="613.65" y2="80.50" stroke="#000" stroke-width="1.3"/>
<line x1="636.50" y1="87.11" x2="636.50" y2="70.41" stroke="#000" stroke-width="1"/>
<line x1="634.00" y1="70.50" x2="639.20" y2="70.50" stroke="#000" stroke-width="1.3"/>
<line x1="662.50" y1="80.60" x2="662.50" y2="61.36" stroke="#000" stroke-width="1"/>
<line x1="659.55" y1="61.50" x2="664.75" y2="61.50" stroke="#000" stroke-width="1.3"/>
<polyline points="483.30,150.50 508.85,139.46 534.40,127.86 559.95,115.12 585.50,108.62 611.05,94.75 636.60,87.11 662.15,80.60" fill="none" stroke="#000" stroke-width="1.35" stroke-linejoin="round"/>
<text x="559.95" y="163.42" font-size="8.6" font-weight="bold" text-anchor="middle" fill="#1a1a1a" stroke="#1a1a1a" stroke-width="0.08">*</text>
<text x="585.50" y="167.95" font-size="8.6" font-weight="bold" text-anchor="middle" fill="#1a1a1a" stroke="#1a1a1a" stroke-width="0.08">**</text>
<text x="611.05" y="173.61" font-size="8.6" font-weight="bold" text-anchor="middle" fill="#1a1a1a" stroke="#1a1a1a" stroke-width="0.08">***</text>
<line x1="485.80" y1="221.50" x2="497.40" y2="221.50" stroke="#000" stroke-width="1.3"/>
<text x="503.00" y="224.20" font-size="8" text-anchor="start" fill="#000" stroke="#000" stroke-width="0.22">Mock</text>
<line x1="530.30" y1="221.50" x2="541.90" y2="221.50" stroke="#ff0000" stroke-width="1.3"/>
<text x="547.50" y="224.20" font-size="8" text-anchor="start" fill="#000" stroke="#000" stroke-width="0.22">G614 strain</text>
<line x1="598.00" y1="221.50" x2="609.60" y2="221.50" stroke="#0000ff" stroke-width="1.3"/>
<text x="615.20" y="224.20" font-size="8" text-anchor="start" fill="#000" stroke="#000" stroke-width="0.22">Alpha variant</text>
<text x="0.00" y="272.00" font-size="17.5" font-weight="bold" text-anchor="start" fill="#000" stroke="#000" stroke-width="0.08">c</text>
<rect x="50.50" y="319.50" width="19.00" height="84.00" fill="#ff0000" stroke="#000" stroke-width="1.1"/>
<line x1="60.50" y1="319.65" x2="60.50" y2="312.25" stroke="#000" stroke-width="1"/>
<line x1="55.75" y1="312.50" x2="64.75" y2="312.50" stroke="#000" stroke-width="1"/>
<path d="M60.25 298.06L62.10 301.59L58.40 301.59Z" fill="#000" stroke="#fff" stroke-width="1.1" stroke-linejoin="round" paint-order="stroke" stroke-opacity="0.85"/>
<path d="M62.85 313.04L64.70 316.57L61.00 316.57Z" fill="#000" stroke="#fff" stroke-width="1.1" stroke-linejoin="round" paint-order="stroke" stroke-opacity="0.85"/>
<path d="M55.85 317.40L57.70 320.93L54.00 320.93Z" fill="#000" stroke="#fff" stroke-width="1.1" stroke-linejoin="round" paint-order="stroke" stroke-opacity="0.85"/>
<path d="M58.45 317.40L60.30 320.93L56.60 320.93Z" fill="#000" stroke="#fff" stroke-width="1.1" stroke-linejoin="round" paint-order="stroke" stroke-opacity="0.85"/>
<path d="M64.55 317.40L66.40 320.93L62.70 320.93Z" fill="#000" stroke="#fff" stroke-width="1.1" stroke-linejoin="round" paint-order="stroke" stroke-opacity="0.85"/>
<path d="M55.65 323.47L57.50 327.00L53.80 327.00Z" fill="#000" stroke="#fff" stroke-width="1.1" stroke-linejoin="round" paint-order="stroke" stroke-opacity="0.85"/>
<path d="M58.85 322.14L60.70 325.67L57.00 325.67Z" fill="#000" stroke="#fff" stroke-width="1.1" stroke-linejoin="round" paint-order="stroke" stroke-opacity="0.85"/>
<path d="M62.35 322.14L64.20 325.67L60.50 325.67Z" fill="#000" stroke="#fff" stroke-width="1.1" stroke-linejoin="round" paint-order="stroke" stroke-opacity="0.85"/>
<path d="M65.35 320.63L67.20 324.16L63.50 324.16Z" fill="#000" stroke="#fff" stroke-width="1.1" stroke-linejoin="round" paint-order="stroke" stroke-opacity="0.85"/>
<path d="M60.65 327.83L62.50 331.36L58.80 331.36Z" fill="#000" stroke="#fff" stroke-width="1.1" stroke-linejoin="round" paint-order="stroke" stroke-opacity="0.85"/>
<path d="M65.35 326.51L67.20 330.04L63.50 330.04Z" fill="#000" stroke="#fff" stroke-width="1.1" stroke-linejoin="round" paint-order="stroke" stroke-opacity="0.85"/>
<rect x="74.50" y="327.50" width="19.00" height="76.00" fill="#0000ff" stroke="#000" stroke-width="1.1"/>
<line x1="83.50" y1="327.23" x2="83.50" y2="317.37" stroke="#000" stroke-width="1"/>
<line x1="79.45" y1="317.50" x2="88.45" y2="317.50" stroke="#000" stroke-width="1"/>
<path d="M83.95 309.44L85.80 312.97L82.10 312.97Z" fill="#000" stroke="#fff" stroke-width="1.1" stroke-linejoin="round" paint-order="stroke" stroke-opacity="0.85"/>
<path d="M86.45 313.04L88.30 316.57L84.60 316.57Z" fill="#000" stroke="#fff" stroke-width="1.1" stroke-linejoin="round" paint-order="stroke" stroke-opacity="0.85"/>
<path d="M81.15 317.40L83.00 320.93L79.30 320.93Z" fill="#000" stroke="#fff" stroke-width="1.1" stroke-linejoin="round" paint-order="stroke" stroke-opacity="0.85"/>
<path d="M76.75 324.80L78.60 328.33L74.90 328.33Z" fill="#000" stroke="#fff" stroke-width="1.1" stroke-linejoin="round" paint-order="stroke" stroke-opacity="0.85"/>
<path d="M80.25 329.16L82.10 332.69L78.40 332.69Z" fill="#000" stroke="#fff" stroke-width="1.1" stroke-linejoin="round" paint-order="stroke" stroke-opacity="0.85"/>
<path d="M83.95 329.16L85.80 332.69L82.10 332.69Z" fill="#000" stroke="#fff" stroke-width="1.1" stroke-linejoin="round" paint-order="stroke" stroke-opacity="0.85"/>
<path d="M87.25 329.16L89.10 332.69L85.40 332.69Z" fill="#000" stroke="#fff" stroke-width="1.1" stroke-linejoin="round" paint-order="stroke" stroke-opacity="0.85"/>
<path d="M91.15 327.26L93.00 330.80L89.30 330.80Z" fill="#000" stroke="#fff" stroke-width="1.1" stroke-linejoin="round" paint-order="stroke" stroke-opacity="0.85"/>
<path d="M86.45 334.28L88.30 337.81L84.60 337.81Z" fill="#000" stroke="#fff" stroke-width="1.1" stroke-linejoin="round" paint-order="stroke" stroke-opacity="0.85"/>
<path d="M83.95 348.32L85.80 351.85L82.10 351.85Z" fill="#000" stroke="#fff" stroke-width="1.1" stroke-linejoin="round" paint-order="stroke" stroke-opacity="0.85"/>
<rect x="111.50" y="321.50" width="20.00" height="82.00" fill="#ff0000" stroke="#000" stroke-width="1.1"/>
<line x1="121.50" y1="321.16" x2="121.50" y2="314.91" stroke="#000" stroke-width="1"/>
<line x1="116.90" y1="314.50" x2="125.90" y2="314.50" stroke="#000" stroke-width="1"/>
<path d="M116.20 313.80L118.05 317.33L114.35 317.33Z" fill="#000" stroke="#fff" stroke-width="1.1" stroke-linejoin="round" paint-order="stroke" stroke-opacity="0.85"/>
<path d="M118.80 313.80L120.65 317.33L116.95 317.33Z" fill="#000" stroke="#fff" stroke-width="1.1" stroke-linejoin="round" paint-order="stroke" stroke-opacity="0.85"/>
<path d="M121.40 313.80L123.25 317.33L119.55 317.33Z" fill="#000" stroke="#fff" stroke-width="1.1" stroke-linejoin="round" paint-order="stroke" stroke-opacity="0.85"/>
<path d="M123.70 313.80L125.55 317.33L121.85 317.33Z" fill="#000" stroke="#fff" stroke-width="1.1" stroke-linejoin="round" paint-order="stroke" stroke-opacity="0.85"/>
<path d="M126.40 313.80L128.25 317.33L124.55 317.33Z" fill="#000" stroke="#fff" stroke-width="1.1" stroke-linejoin="round" paint-order="stroke" stroke-opacity="0.85"/>
<path d="M118.80 317.40L120.65 320.93L116.95 320.93Z" fill="#000" stroke="#fff" stroke-width="1.1" stroke-linejoin="round" paint-order="stroke" stroke-opacity="0.85"/>
<path d="M121.40 318.16L123.25 321.69L119.55 321.69Z" fill="#000" stroke="#fff" stroke-width="1.1" stroke-linejoin="round" paint-order="stroke" stroke-opacity="0.85"/>
<path d="M123.70 319.68L125.55 323.21L121.85 323.21Z" fill="#000" stroke="#fff" stroke-width="1.1" stroke-linejoin="round" paint-order="stroke" stroke-opacity="0.85"/>
<path d="M126.40 318.92L128.25 322.45L124.55 322.45Z" fill="#000" stroke="#fff" stroke-width="1.1" stroke-linejoin="round" paint-order="stroke" stroke-opacity="0.85"/>
<path d="M116.20 324.42L118.05 327.95L114.35 327.95Z" fill="#000" stroke="#fff" stroke-width="1.1" stroke-linejoin="round" paint-order="stroke" stroke-opacity="0.85"/>
<path d="M121.40 329.16L123.25 332.69L119.55 332.69Z" fill="#000" stroke="#fff" stroke-width="1.1" stroke-linejoin="round" paint-order="stroke" stroke-opacity="0.85"/>
<path d="M126.40 326.89L128.25 330.42L124.55 330.42Z" fill="#000" stroke="#fff" stroke-width="1.1" stroke-linejoin="round" paint-order="stroke" stroke-opacity="0.85"/>
<rect x="135.50" y="328.50" width="19.00" height="75.00" fill="#0000ff" stroke="#000" stroke-width="1.1"/>
<line x1="144.50" y1="328.18" x2="144.50" y2="320.60" stroke="#000" stroke-width="1"/>
<line x1="140.40" y1="320.50" x2="149.40" y2="320.50" stroke="#000" stroke-width="1"/>
<path d="M144.90 313.23L146.75 316.76L143.05 316.76Z" fill="#000" stroke="#fff" stroke-width="1.1" stroke-linejoin="round" paint-order="stroke" stroke-opacity="0.85"/>
<path d="M138.10 322.14L139.95 325.67L136.25 325.67Z" fill="#000" stroke="#fff" stroke-width="1.1" stroke-linejoin="round" paint-order="stroke" stroke-opacity="0.85"/>
<path d="M142.50 325.37L144.35 328.90L140.65 328.90Z" fill="#000" stroke="#fff" stroke-width="1.1" stroke-linejoin="round" paint-order="stroke" stroke-opacity="0.85"/>
<path d="M147.20 322.71L149.05 326.24L145.35 326.24Z" fill="#000" stroke="#fff" stroke-width="1.1" stroke-linejoin="round" paint-order="stroke" stroke-opacity="0.85"/>
<path d="M151.80 320.44L153.65 323.97L149.95 323.97Z" fill="#000" stroke="#fff" stroke-width="1.1" stroke-linejoin="round" paint-order="stroke" stroke-opacity="0.85"/>
<path d="M139.90 329.16L141.75 332.69L138.05 332.69Z" fill="#000" stroke="#fff" stroke-width="1.1" stroke-linejoin="round" paint-order="stroke" stroke-opacity="0.85"/>
<path d="M142.50 329.16L144.35 332.69L140.65 332.69Z" fill="#000" stroke="#fff" stroke-width="1.1" stroke-linejoin="round" paint-order="stroke" stroke-opacity="0.85"/>
<path d="M145.10 330.49L146.95 334.02L143.25 334.02Z" fill="#000" stroke="#fff" stroke-width="1.1" stroke-linejoin="round" paint-order="stroke" stroke-opacity="0.85"/>
<path d="M149.50 329.73L151.35 333.26L147.65 333.26Z" fill="#000" stroke="#fff" stroke-width="1.1" stroke-linejoin="round" paint-order="stroke" stroke-opacity="0.85"/>
<path d="M144.90 343.58L146.75 347.11L143.05 347.11Z" fill="#000" stroke="#fff" stroke-width="1.1" stroke-linejoin="round" paint-order="stroke" stroke-opacity="0.85"/>
<rect x="172.50" y="357.50" width="20.00" height="46.00" fill="#ff0000" stroke="#000" stroke-width="1.1"/>
<line x1="182.50" y1="357.58" x2="182.50" y2="352.46" stroke="#000" stroke-width="1"/>
<line x1="177.65" y1="352.50" x2="186.65" y2="352.50" stroke="#000" stroke-width="1"/>
<path d="M177.35 346.80L179.20 350.33L175.50 350.33Z" fill="#000" stroke="#fff" stroke-width="1.1" stroke-linejoin="round" paint-order="stroke" stroke-opacity="0.85"/>
<path d="M190.25 350.02L192.10 353.56L188.40 353.56Z" fill="#000" stroke="#fff" stroke-width="1.1" stroke-linejoin="round" paint-order="stroke" stroke-opacity="0.85"/>
<path d="M187.35 352.30L189.20 355.83L185.50 355.83Z" fill="#000" stroke="#fff" stroke-width="1.1" stroke-linejoin="round" paint-order="stroke" stroke-opacity="0.85"/>
<path d="M177.35 354.39L179.20 357.92L175.50 357.92Z" fill="#000" stroke="#fff" stroke-width="1.1" stroke-linejoin="round" paint-order="stroke" stroke-opacity="0.85"/>
<path d="M180.25 359.32L182.10 362.85L178.40 362.85Z" fill="#000" stroke="#fff" stroke-width="1.1" stroke-linejoin="round" paint-order="stroke" stroke-opacity="0.85"/>
<path d="M182.65 359.32L184.50 362.85L180.80 362.85Z" fill="#000" stroke="#fff" stroke-width="1.1" stroke-linejoin="round" paint-order="stroke" stroke-opacity="0.85"/>
<path d="M184.95 359.32L186.80 362.85L183.10 362.85Z" fill="#000" stroke="#fff" stroke-width="1.1" stroke-linejoin="round" paint-order="stroke" stroke-opacity="0.85"/>
<path d="M187.35 359.32L189.20 362.85L185.50 362.85Z" fill="#000" stroke="#fff" stroke-width="1.1" stroke-linejoin="round" paint-order="stroke" stroke-opacity="0.85"/>
<path d="M177.95 362.73L179.80 366.26L176.10 366.26Z" fill="#000" stroke="#fff" stroke-width="1.1" stroke-linejoin="round" paint-order="stroke" stroke-opacity="0.85"/>
<path d="M180.25 363.30L182.10 366.83L178.40 366.83Z" fill="#000" stroke="#fff" stroke-width="1.1" stroke-linejoin="round" paint-order="stroke" stroke-opacity="0.85"/>
<path d="M183.15 363.30L185.00 366.83L181.30 366.83Z" fill="#000" stroke="#fff" stroke-width="1.1" stroke-linejoin="round" paint-order="stroke" stroke-opacity="0.85"/>
<rect x="196.50" y="365.50" width="19.00" height="38.00" fill="#0000ff" stroke="#000" stroke-width="1.1"/>
<line x1="205.50" y1="365.17" x2="205.50" y2="358.15" stroke="#000" stroke-width="1"/>
<line x1="201.30" y1="358.50" x2="210.30" y2="358.50" stroke="#000" stroke-width="1"/>
<path d="M205.80 349.46L207.65 352.99L203.95 352.99Z" fill="#000" stroke="#fff" stroke-width="1.1" stroke-linejoin="round" paint-order="stroke" stroke-opacity="0.85"/>
<path d="M208.80 355.34L210.65 358.87L206.95 358.87Z" fill="#000" stroke="#fff" stroke-width="1.1" stroke-linejoin="round" paint-order="stroke" stroke-opacity="0.85"/>
<path d="M200.60 358.18L202.45 361.71L198.75 361.71Z" fill="#000" stroke="#fff" stroke-width="1.1" stroke-linejoin="round" paint-order="stroke" stroke-opacity="0.85"/>
<path d="M203.10 363.30L204.95 366.83L201.25 366.83Z" fill="#000" stroke="#fff" stroke-width="1.1" stroke-linejoin="round" paint-order="stroke" stroke-opacity="0.85"/>
<path d="M205.80 364.25L207.65 367.78L203.95 367.78Z" fill="#000" stroke="#fff" stroke-width="1.1" stroke-linejoin="round" paint-order="stroke" stroke-opacity="0.85"/>
<path d="M208.30 365.20L210.15 368.73L206.45 368.73Z" fill="#000" stroke="#fff" stroke-width="1.1" stroke-linejoin="round" paint-order="stroke" stroke-opacity="0.85"/>
<path d="M210.80 364.63L212.65 368.16L208.95 368.16Z" fill="#000" stroke="#fff" stroke-width="1.1" stroke-linejoin="round" paint-order="stroke" stroke-opacity="0.85"/>
<path d="M200.80 370.89L202.65 374.42L198.95 374.42Z" fill="#000" stroke="#fff" stroke-width="1.1" stroke-linejoin="round" paint-order="stroke" stroke-opacity="0.85"/>
<path d="M205.80 371.84L207.65 375.37L203.95 375.37Z" fill="#000" stroke="#fff" stroke-width="1.1" stroke-linejoin="round" paint-order="stroke" stroke-opacity="0.85"/>
<path d="M210.30 373.73L212.15 377.26L208.45 377.26Z" fill="#000" stroke="#fff" stroke-width="1.1" stroke-linejoin="round" paint-order="stroke" stroke-opacity="0.85"/>
<path d="M203.80 375.06L205.65 378.59L201.95 378.59Z" fill="#000" stroke="#fff" stroke-width="1.1" stroke-linejoin="round" paint-order="stroke" stroke-opacity="0.85"/>
<line x1="41.50" y1="288.80" x2="41.50" y2="403.60" stroke="#000" stroke-width="1"/>
<line x1="40.70" y1="403.50" x2="216.50" y2="403.50" stroke="#000" stroke-width="1"/>
<line x1="37.80" y1="403.50" x2="41.30" y2="403.50" stroke="#000" stroke-width="1"/>
<text x="37.30" y="406.00" font-size="8.0" font-weight="bold" text-anchor="end" fill="#000" stroke="#000" stroke-width="0.08" textLength="4.0" lengthAdjust="spacingAndGlyphs">3</text>
<line x1="37.80" y1="365.50" x2="41.30" y2="365.50" stroke="#000" stroke-width="1"/>
<text x="37.30" y="368.07" font-size="8.0" font-weight="bold" text-anchor="end" fill="#000" stroke="#000" stroke-width="0.08" textLength="4.0" lengthAdjust="spacingAndGlyphs">5</text>
<line x1="37.80" y1="327.50" x2="41.30" y2="327.50" stroke="#000" stroke-width="1"/>
<text x="37.30" y="330.13" font-size="8.0" font-weight="bold" text-anchor="end" fill="#000" stroke="#000" stroke-width="0.08" textLength="4.0" lengthAdjust="spacingAndGlyphs">7</text>
<line x1="37.80" y1="289.50" x2="41.30" y2="289.50" stroke="#000" stroke-width="1"/>
<text x="37.30" y="292.20" font-size="8.0" font-weight="bold" text-anchor="end" fill="#000" stroke="#000" stroke-width="0.08" textLength="4.0" lengthAdjust="spacingAndGlyphs">9</text>
<line x1="39.10" y1="384.50" x2="41.30" y2="384.50" stroke="#000" stroke-width="1"/>
<line x1="39.10" y1="346.50" x2="41.30" y2="346.50" stroke="#000" stroke-width="1"/>
<line x1="39.10" y1="308.50" x2="41.30" y2="308.50" stroke="#000" stroke-width="1"/>
<line x1="60.50" y1="403.10" x2="60.50" y2="406.10" stroke="#000" stroke-width="1"/>
<text x="62.75" y="413.10" font-size="7.9" font-weight="bold" text-anchor="end" fill="#000" stroke="#000" stroke-width="0.08" transform="rotate(-45 62.75 413.10)">G614 strain</text>
<line x1="83.50" y1="403.10" x2="83.50" y2="406.10" stroke="#000" stroke-width="1"/>
<text x="86.45" y="413.10" font-size="7.9" font-weight="bold" text-anchor="end" fill="#000" stroke="#000" stroke-width="0.08" transform="rotate(-45 86.45 413.10)">Alpha variant</text>
<line x1="121.50" y1="403.10" x2="121.50" y2="406.10" stroke="#000" stroke-width="1"/>
<text x="123.90" y="413.10" font-size="7.9" font-weight="bold" text-anchor="end" fill="#000" stroke="#000" stroke-width="0.08" transform="rotate(-45 123.90 413.10)">G614 strain</text>
<line x1="144.50" y1="403.10" x2="144.50" y2="406.10" stroke="#000" stroke-width="1"/>
<text x="147.40" y="413.10" font-size="7.9" font-weight="bold" text-anchor="end" fill="#000" stroke="#000" stroke-width="0.08" transform="rotate(-45 147.40 413.10)">Alpha variant</text>
<line x1="182.50" y1="403.10" x2="182.50" y2="406.10" stroke="#000" stroke-width="1"/>
<text x="184.65" y="413.10" font-size="7.9" font-weight="bold" text-anchor="end" fill="#000" stroke="#000" stroke-width="0.08" transform="rotate(-45 184.65 413.10)">G614 strain</text>
<line x1="205.50" y1="403.10" x2="205.50" y2="406.10" stroke="#000" stroke-width="1"/>
<text x="208.30" y="413.10" font-size="7.9" font-weight="bold" text-anchor="end" fill="#000" stroke="#000" stroke-width="0.08" transform="rotate(-45 208.30 413.10)">Alpha variant</text>
<line x1="22.40" y1="457.50" x2="71.00" y2="457.50" stroke="#444" stroke-width="1"/>
<line x1="22.50" y1="455.10" x2="22.50" y2="457.30" stroke="#444" stroke-width="1"/>
<line x1="71.50" y1="455.10" x2="71.50" y2="457.30" stroke="#444" stroke-width="1"/>
<text x="46.70" y="470.00" font-size="7.9" text-anchor="middle" fill="#1a1a1a" stroke="#1a1a1a" stroke-width="0.22">2dpi.</text>
<line x1="82.30" y1="457.50" x2="131.00" y2="457.50" stroke="#444" stroke-width="1"/>
<line x1="82.50" y1="455.10" x2="82.50" y2="457.30" stroke="#444" stroke-width="1"/>
<line x1="131.50" y1="455.10" x2="131.50" y2="457.30" stroke="#444" stroke-width="1"/>
<text x="106.65" y="470.00" font-size="7.9" text-anchor="middle" fill="#1a1a1a" stroke="#1a1a1a" stroke-width="0.22">4dpi.</text>
<line x1="142.70" y1="457.50" x2="191.40" y2="457.50" stroke="#444" stroke-width="1"/>
<line x1="142.50" y1="455.10" x2="142.50" y2="457.30" stroke="#444" stroke-width="1"/>
<line x1="191.50" y1="455.10" x2="191.50" y2="457.30" stroke="#444" stroke-width="1"/>
<text x="167.05" y="470.00" font-size="7.9" text-anchor="middle" fill="#1a1a1a" stroke="#1a1a1a" stroke-width="0.22">7dpi.</text>
<line x1="62.00" y1="292.20" x2="81.60" y2="292.20" stroke="#959595" stroke-width="1.35"/>
<text x="71.80" y="292.60" font-size="8.5" font-weight="bold" text-anchor="middle" fill="#111" stroke="#111" stroke-width="0.08">*</text>
<line x1="123.20" y1="301.60" x2="142.70" y2="301.60" stroke="#959595" stroke-width="1.35"/>
<text x="132.95" y="302.00" font-size="8.5" font-weight="bold" text-anchor="middle" fill="#111" stroke="#111" stroke-width="0.08">*</text>
<line x1="183.00" y1="340.90" x2="203.20" y2="340.90" stroke="#959595" stroke-width="1.35"/>
<text x="193.10" y="341.30" font-size="8.5" font-weight="bold" text-anchor="middle" fill="#111" stroke="#111" stroke-width="0.08">**</text>
<text x="7.00" y="346.70" font-size="8.2" font-weight="bold" text-anchor="middle" fill="#000" stroke="#000" stroke-width="0.08" transform="rotate(-90 7.00 346.70)">Lung RNA Yields</text>
<text x="16.30" y="345.70" font-size="7.9" text-anchor="middle" fill="#000" stroke="#000" stroke-width="0.22" transform="rotate(-90 16.30 345.70)">Viral genome copies/gram</text>
<text x="26.00" y="346.70" font-size="7.9" text-anchor="middle" fill="#000" stroke="#000" stroke-width="0.22" transform="rotate(-90 26.00 346.70)">log<tspan font-size="6" dy="1.6">10</tspan><tspan dy="-1.6"> scale</tspan></text>
<text x="258.00" y="271.90" font-size="17.5" font-weight="bold" text-anchor="start" fill="#000" stroke="#000" stroke-width="0.08">d</text>
<rect x="310.50" y="318.50" width="19.00" height="82.00" fill="#ff0000" stroke="#000" stroke-width="1.1"/>
<line x1="320.50" y1="318.21" x2="320.50" y2="312.09" stroke="#000" stroke-width="1"/>
<line x1="315.50" y1="312.50" x2="324.50" y2="312.50" stroke="#000" stroke-width="1"/>
<path d="M320.00 307.35L321.85 310.88L318.15 310.88Z" fill="#000" stroke="#fff" stroke-width="1.1" stroke-linejoin="round" paint-order="stroke" stroke-opacity="0.85"/>
<path d="M313.20 311.37L315.05 314.90L311.35 314.90Z" fill="#000" stroke="#fff" stroke-width="1.1" stroke-linejoin="round" paint-order="stroke" stroke-opacity="0.85"/>
<path d="M322.50 311.37L324.35 314.90L320.65 314.90Z" fill="#000" stroke="#fff" stroke-width="1.1" stroke-linejoin="round" paint-order="stroke" stroke-opacity="0.85"/>
<path d="M326.90 310.22L328.75 313.75L325.05 313.75Z" fill="#000" stroke="#fff" stroke-width="1.1" stroke-linejoin="round" paint-order="stroke" stroke-opacity="0.85"/>
<path d="M313.00 317.88L314.85 321.41L311.15 321.41Z" fill="#000" stroke="#fff" stroke-width="1.1" stroke-linejoin="round" paint-order="stroke" stroke-opacity="0.85"/>
<path d="M316.20 320.55L318.05 324.08L314.35 324.08Z" fill="#000" stroke="#fff" stroke-width="1.1" stroke-linejoin="round" paint-order="stroke" stroke-opacity="0.85"/>
<path d="M320.00 320.17L321.85 323.70L318.15 323.70Z" fill="#000" stroke="#fff" stroke-width="1.1" stroke-linejoin="round" paint-order="stroke" stroke-opacity="0.85"/>
<path d="M323.50 318.83L325.35 322.36L321.65 322.36Z" fill="#000" stroke="#fff" stroke-width="1.1" stroke-linejoin="round" paint-order="stroke" stroke-opacity="0.85"/>
<path d="M327.00 317.88L328.85 321.41L325.15 321.41Z" fill="#000" stroke="#fff" stroke-width="1.1" stroke-linejoin="round" paint-order="stroke" stroke-opacity="0.85"/>
<path d="M322.50 323.62L324.35 327.15L320.65 327.15Z" fill="#000" stroke="#fff" stroke-width="1.1" stroke-linejoin="round" paint-order="stroke" stroke-opacity="0.85"/>
<path d="M317.60 327.06L319.45 330.59L315.75 330.59Z" fill="#000" stroke="#fff" stroke-width="1.1" stroke-linejoin="round" paint-order="stroke" stroke-opacity="0.85"/>
<rect x="333.50" y="318.50" width="19.00" height="82.00" fill="#0000ff" stroke="#000" stroke-width="1.1"/>
<line x1="343.50" y1="318.21" x2="343.50" y2="312.85" stroke="#000" stroke-width="1"/>
<line x1="338.80" y1="312.50" x2="347.80" y2="312.50" stroke="#000" stroke-width="1"/>
<path d="M343.30 302.95L345.15 306.48L341.45 306.48Z" fill="#000" stroke="#fff" stroke-width="1.1" stroke-linejoin="round" paint-order="stroke" stroke-opacity="0.85"/>
<path d="M341.30 314.43L343.15 317.96L339.45 317.96Z" fill="#000" stroke="#fff" stroke-width="1.1" stroke-linejoin="round" paint-order="stroke" stroke-opacity="0.85"/>
<path d="M344.80 314.43L346.65 317.96L342.95 317.96Z" fill="#000" stroke="#fff" stroke-width="1.1" stroke-linejoin="round" paint-order="stroke" stroke-opacity="0.85"/>
<path d="M337.80 316.92L339.65 320.45L335.95 320.45Z" fill="#000" stroke="#fff" stroke-width="1.1" stroke-linejoin="round" paint-order="stroke" stroke-opacity="0.85"/>
<path d="M340.80 317.88L342.65 321.41L338.95 321.41Z" fill="#000" stroke="#fff" stroke-width="1.1" stroke-linejoin="round" paint-order="stroke" stroke-opacity="0.85"/>
<path d="M343.90 318.83L345.75 322.36L342.05 322.36Z" fill="#000" stroke="#fff" stroke-width="1.1" stroke-linejoin="round" paint-order="stroke" stroke-opacity="0.85"/>
<path d="M347.40 317.49L349.25 321.02L345.55 321.02Z" fill="#000" stroke="#fff" stroke-width="1.1" stroke-linejoin="round" paint-order="stroke" stroke-opacity="0.85"/>
<path d="M346.00 323.04L347.85 326.57L344.15 326.57Z" fill="#000" stroke="#fff" stroke-width="1.1" stroke-linejoin="round" paint-order="stroke" stroke-opacity="0.85"/>
<path d="M340.80 325.53L342.65 329.06L338.95 329.06Z" fill="#000" stroke="#fff" stroke-width="1.1" stroke-linejoin="round" paint-order="stroke" stroke-opacity="0.85"/>
<rect x="371.50" y="346.50" width="19.00" height="54.00" fill="#ff0000" stroke="#000" stroke-width="1.1"/>
<line x1="380.50" y1="346.34" x2="380.50" y2="339.06" stroke="#000" stroke-width="1"/>
<line x1="376.25" y1="339.50" x2="385.25" y2="339.50" stroke="#000" stroke-width="1"/>
<path d="M380.75 328.21L382.60 331.74L378.90 331.74Z" fill="#000" stroke="#fff" stroke-width="1.1" stroke-linejoin="round" paint-order="stroke" stroke-opacity="0.85"/>
<path d="M374.05 341.60L375.90 345.13L372.20 345.13Z" fill="#000" stroke="#fff" stroke-width="1.1" stroke-linejoin="round" paint-order="stroke" stroke-opacity="0.85"/>
<path d="M378.05 342.75L379.90 346.28L376.20 346.28Z" fill="#000" stroke="#fff" stroke-width="1.1" stroke-linejoin="round" paint-order="stroke" stroke-opacity="0.85"/>
<path d="M383.25 343.13L385.10 346.66L381.40 346.66Z" fill="#000" stroke="#fff" stroke-width="1.1" stroke-linejoin="round" paint-order="stroke" stroke-opacity="0.85"/>
<path d="M387.65 340.84L389.50 344.37L385.80 344.37Z" fill="#000" stroke="#fff" stroke-width="1.1" stroke-linejoin="round" paint-order="stroke" stroke-opacity="0.85"/>
<path d="M373.75 347.53L375.60 351.06L371.90 351.06Z" fill="#000" stroke="#fff" stroke-width="1.1" stroke-linejoin="round" paint-order="stroke" stroke-opacity="0.85"/>
<path d="M377.25 348.49L379.10 352.02L375.40 352.02Z" fill="#000" stroke="#fff" stroke-width="1.1" stroke-linejoin="round" paint-order="stroke" stroke-opacity="0.85"/>
<path d="M380.75 349.44L382.60 352.98L378.90 352.98Z" fill="#000" stroke="#fff" stroke-width="1.1" stroke-linejoin="round" paint-order="stroke" stroke-opacity="0.85"/>
<path d="M384.65 348.87L386.50 352.40L382.80 352.40Z" fill="#000" stroke="#fff" stroke-width="1.1" stroke-linejoin="round" paint-order="stroke" stroke-opacity="0.85"/>
<path d="M388.25 347.34L390.10 350.87L386.40 350.87Z" fill="#000" stroke="#fff" stroke-width="1.1" stroke-linejoin="round" paint-order="stroke" stroke-opacity="0.85"/>
<path d="M383.25 352.89L385.10 356.42L381.40 356.42Z" fill="#000" stroke="#fff" stroke-width="1.1" stroke-linejoin="round" paint-order="stroke" stroke-opacity="0.85"/>
<path d="M378.35 356.14L380.20 359.67L376.50 359.67Z" fill="#000" stroke="#fff" stroke-width="1.1" stroke-linejoin="round" paint-order="stroke" stroke-opacity="0.85"/>
<rect x="394.50" y="350.50" width="19.00" height="50.00" fill="#0000ff" stroke="#000" stroke-width="1.1"/>
<line x1="404.50" y1="350.93" x2="404.50" y2="344.04" stroke="#000" stroke-width="1"/>
<line x1="399.60" y1="344.50" x2="408.60" y2="344.50" stroke="#000" stroke-width="1"/>
<path d="M404.10 340.26L405.95 343.79L402.25 343.79Z" fill="#000" stroke="#fff" stroke-width="1.1" stroke-linejoin="round" paint-order="stroke" stroke-opacity="0.85"/>
<path d="M410.90 340.84L412.75 344.37L409.05 344.37Z" fill="#000" stroke="#fff" stroke-width="1.1" stroke-linejoin="round" paint-order="stroke" stroke-opacity="0.85"/>
<path d="M397.10 343.70L398.95 347.24L395.25 347.24Z" fill="#000" stroke="#fff" stroke-width="1.1" stroke-linejoin="round" paint-order="stroke" stroke-opacity="0.85"/>
<path d="M401.40 345.04L403.25 348.57L399.55 348.57Z" fill="#000" stroke="#fff" stroke-width="1.1" stroke-linejoin="round" paint-order="stroke" stroke-opacity="0.85"/>
<path d="M405.30 343.90L407.15 347.43L403.45 347.43Z" fill="#000" stroke="#fff" stroke-width="1.1" stroke-linejoin="round" paint-order="stroke" stroke-opacity="0.85"/>
<path d="M399.70 350.40L401.55 353.93L397.85 353.93Z" fill="#000" stroke="#fff" stroke-width="1.1" stroke-linejoin="round" paint-order="stroke" stroke-opacity="0.85"/>
<path d="M403.50 350.02L405.35 353.55L401.65 353.55Z" fill="#000" stroke="#fff" stroke-width="1.1" stroke-linejoin="round" paint-order="stroke" stroke-opacity="0.85"/>
<path d="M408.70 350.40L410.55 353.93L406.85 353.93Z" fill="#000" stroke="#fff" stroke-width="1.1" stroke-linejoin="round" paint-order="stroke" stroke-opacity="0.85"/>
<path d="M401.80 354.80L403.65 358.33L399.95 358.33Z" fill="#000" stroke="#fff" stroke-width="1.1" stroke-linejoin="round" paint-order="stroke" stroke-opacity="0.85"/>
<path d="M405.30 354.80L407.15 358.33L403.45 358.33Z" fill="#000" stroke="#fff" stroke-width="1.1" stroke-linejoin="round" paint-order="stroke" stroke-opacity="0.85"/>
<path d="M404.10 363.99L405.95 367.52L402.25 367.52Z" fill="#000" stroke="#fff" stroke-width="1.1" stroke-linejoin="round" paint-order="stroke" stroke-opacity="0.85"/>
<rect x="432.50" y="361.50" width="18.00" height="39.00" fill="#ff0000" stroke="#000" stroke-width="1.1"/>
<line x1="441.50" y1="361.26" x2="441.50" y2="349.21" stroke="#000" stroke-width="1"/>
<line x1="436.85" y1="349.50" x2="445.85" y2="349.50" stroke="#000" stroke-width="1"/>
<path d="M441.35 343.70L443.20 347.24L439.50 347.24Z" fill="#000" stroke="#fff" stroke-width="1.1" stroke-linejoin="round" paint-order="stroke" stroke-opacity="0.85"/>
<path d="M446.45 352.70L448.30 356.23L444.60 356.23Z" fill="#000" stroke="#fff" stroke-width="1.1" stroke-linejoin="round" paint-order="stroke" stroke-opacity="0.85"/>
<path d="M436.45 355.19L438.30 358.72L434.60 358.72Z" fill="#000" stroke="#fff" stroke-width="1.1" stroke-linejoin="round" paint-order="stroke" stroke-opacity="0.85"/>
<path d="M438.95 357.10L440.80 360.63L437.10 360.63Z" fill="#000" stroke="#fff" stroke-width="1.1" stroke-linejoin="round" paint-order="stroke" stroke-opacity="0.85"/>
<path d="M441.35 356.14L443.20 359.67L439.50 359.67Z" fill="#000" stroke="#fff" stroke-width="1.1" stroke-linejoin="round" paint-order="stroke" stroke-opacity="0.85"/>
<path d="M443.85 355.76L445.70 359.29L442.00 359.29Z" fill="#000" stroke="#fff" stroke-width="1.1" stroke-linejoin="round" paint-order="stroke" stroke-opacity="0.85"/>
<path d="M446.15 359.97L448.00 363.50L444.30 363.50Z" fill="#000" stroke="#fff" stroke-width="1.1" stroke-linejoin="round" paint-order="stroke" stroke-opacity="0.85"/>
<path d="M440.05 360.93L441.90 364.46L438.20 364.46Z" fill="#000" stroke="#fff" stroke-width="1.1" stroke-linejoin="round" paint-order="stroke" stroke-opacity="0.85"/>
<path d="M441.35 371.07L443.20 374.60L439.50 374.60Z" fill="#000" stroke="#fff" stroke-width="1.1" stroke-linejoin="round" paint-order="stroke" stroke-opacity="0.85"/>
<path d="M441.35 391.54L443.20 395.07L439.50 395.07Z" fill="#000" stroke="#fff" stroke-width="1.1" stroke-linejoin="round" paint-order="stroke" stroke-opacity="0.85"/>
<rect x="455.50" y="363.50" width="19.00" height="37.00" fill="#0000ff" stroke="#000" stroke-width="1.1"/>
<line x1="464.50" y1="363.17" x2="464.50" y2="356.48" stroke="#000" stroke-width="1"/>
<line x1="460.35" y1="356.50" x2="469.35" y2="356.50" stroke="#000" stroke-width="1"/>
<path d="M462.25 352.70L464.10 356.23L460.40 356.23Z" fill="#000" stroke="#fff" stroke-width="1.1" stroke-linejoin="round" paint-order="stroke" stroke-opacity="0.85"/>
<path d="M467.45 353.65L469.30 357.18L465.60 357.18Z" fill="#000" stroke="#fff" stroke-width="1.1" stroke-linejoin="round" paint-order="stroke" stroke-opacity="0.85"/>
<path d="M460.25 356.52L462.10 360.05L458.40 360.05Z" fill="#000" stroke="#fff" stroke-width="1.1" stroke-linejoin="round" paint-order="stroke" stroke-opacity="0.85"/>
<path d="M469.95 357.10L471.80 360.63L468.10 360.63Z" fill="#000" stroke="#fff" stroke-width="1.1" stroke-linejoin="round" paint-order="stroke" stroke-opacity="0.85"/>
<path d="M463.35 358.44L465.20 361.97L461.50 361.97Z" fill="#000" stroke="#fff" stroke-width="1.1" stroke-linejoin="round" paint-order="stroke" stroke-opacity="0.85"/>
<path d="M466.35 358.44L468.20 361.97L464.50 361.97Z" fill="#000" stroke="#fff" stroke-width="1.1" stroke-linejoin="round" paint-order="stroke" stroke-opacity="0.85"/>
<path d="M459.75 361.31L461.60 364.84L457.90 364.84Z" fill="#000" stroke="#fff" stroke-width="1.1" stroke-linejoin="round" paint-order="stroke" stroke-opacity="0.85"/>
<path d="M469.95 363.41L471.80 366.94L468.10 366.94Z" fill="#000" stroke="#fff" stroke-width="1.1" stroke-linejoin="round" paint-order="stroke" stroke-opacity="0.85"/>
<path d="M464.85 365.52L466.70 369.05L463.00 369.05Z" fill="#000" stroke="#fff" stroke-width="1.1" stroke-linejoin="round" paint-order="stroke" stroke-opacity="0.85"/>
<path d="M462.25 368.58L464.10 372.11L460.40 372.11Z" fill="#000" stroke="#fff" stroke-width="1.1" stroke-linejoin="round" paint-order="stroke" stroke-opacity="0.85"/>
<path d="M467.45 371.07L469.30 374.60L465.60 374.60Z" fill="#000" stroke="#fff" stroke-width="1.1" stroke-linejoin="round" paint-order="stroke" stroke-opacity="0.85"/>
<path d="M464.85 376.61L466.70 380.14L463.00 380.14Z" fill="#000" stroke="#fff" stroke-width="1.1" stroke-linejoin="round" paint-order="stroke" stroke-opacity="0.85"/>
<line x1="301.50" y1="284.80" x2="301.50" y2="400.60" stroke="#000" stroke-width="1"/>
<line x1="301.10" y1="400.50" x2="484.00" y2="400.50" stroke="#000" stroke-width="1"/>
<line x1="298.20" y1="400.50" x2="301.70" y2="400.50" stroke="#000" stroke-width="1"/>
<text x="297.70" y="403.00" font-size="8.0" font-weight="bold" text-anchor="end" fill="#000" stroke="#000" stroke-width="0.08" textLength="4.0" lengthAdjust="spacingAndGlyphs">1</text>
<line x1="298.20" y1="361.50" x2="301.70" y2="361.50" stroke="#000" stroke-width="1"/>
<text x="297.70" y="364.73" font-size="8.0" font-weight="bold" text-anchor="end" fill="#000" stroke="#000" stroke-width="0.08" textLength="4.0" lengthAdjust="spacingAndGlyphs">3</text>
<line x1="298.20" y1="323.50" x2="301.70" y2="323.50" stroke="#000" stroke-width="1"/>
<text x="297.70" y="326.47" font-size="8.0" font-weight="bold" text-anchor="end" fill="#000" stroke="#000" stroke-width="0.08" textLength="4.0" lengthAdjust="spacingAndGlyphs">5</text>
<line x1="298.20" y1="285.50" x2="301.70" y2="285.50" stroke="#000" stroke-width="1"/>
<text x="297.70" y="288.20" font-size="8.0" font-weight="bold" text-anchor="end" fill="#000" stroke="#000" stroke-width="0.08" textLength="4.0" lengthAdjust="spacingAndGlyphs">7</text>
<line x1="299.50" y1="380.50" x2="301.70" y2="380.50" stroke="#000" stroke-width="1"/>
<line x1="299.50" y1="342.50" x2="301.70" y2="342.50" stroke="#000" stroke-width="1"/>
<line x1="299.50" y1="304.50" x2="301.70" y2="304.50" stroke="#000" stroke-width="1"/>
<line x1="320.50" y1="400.10" x2="320.50" y2="403.10" stroke="#000" stroke-width="1"/>
<text x="322.50" y="410.10" font-size="7.9" font-weight="bold" text-anchor="end" fill="#000" stroke="#000" stroke-width="0.08" transform="rotate(-45 322.50 410.10)">G614 strain</text>
<line x1="343.50" y1="400.10" x2="343.50" y2="403.10" stroke="#000" stroke-width="1"/>
<text x="345.80" y="410.10" font-size="7.9" font-weight="bold" text-anchor="end" fill="#000" stroke="#000" stroke-width="0.08" transform="rotate(-45 345.80 410.10)">Alpha variant</text>
<line x1="380.50" y1="400.10" x2="380.50" y2="403.10" stroke="#000" stroke-width="1"/>
<text x="383.25" y="410.10" font-size="7.9" font-weight="bold" text-anchor="end" fill="#000" stroke="#000" stroke-width="0.08" transform="rotate(-45 383.25 410.10)">G614 strain</text>
<line x1="404.50" y1="400.10" x2="404.50" y2="403.10" stroke="#000" stroke-width="1"/>
<text x="406.60" y="410.10" font-size="7.9" font-weight="bold" text-anchor="end" fill="#000" stroke="#000" stroke-width="0.08" transform="rotate(-45 406.60 410.10)">Alpha variant</text>
<line x1="441.50" y1="400.10" x2="441.50" y2="403.10" stroke="#000" stroke-width="1"/>
<text x="443.85" y="410.10" font-size="7.9" font-weight="bold" text-anchor="end" fill="#000" stroke="#000" stroke-width="0.08" transform="rotate(-45 443.85 410.10)">G614 strain</text>
<line x1="464.50" y1="400.10" x2="464.50" y2="403.10" stroke="#000" stroke-width="1"/>
<text x="467.35" y="410.10" font-size="7.9" font-weight="bold" text-anchor="end" fill="#000" stroke="#000" stroke-width="0.08" transform="rotate(-45 467.35 410.10)">Alpha variant</text>
<line x1="282.00" y1="453.50" x2="330.80" y2="453.50" stroke="#444" stroke-width="1"/>
<line x1="282.50" y1="451.20" x2="282.50" y2="453.40" stroke="#444" stroke-width="1"/>
<line x1="330.50" y1="451.20" x2="330.50" y2="453.40" stroke="#444" stroke-width="1"/>
<text x="306.40" y="467.00" font-size="7.9" text-anchor="middle" fill="#1a1a1a" stroke="#1a1a1a" stroke-width="0.22">2dpi.</text>
<line x1="342.50" y1="453.50" x2="390.60" y2="453.50" stroke="#444" stroke-width="1"/>
<line x1="342.50" y1="451.20" x2="342.50" y2="453.40" stroke="#444" stroke-width="1"/>
<line x1="390.50" y1="451.20" x2="390.50" y2="453.40" stroke="#444" stroke-width="1"/>
<text x="366.55" y="467.00" font-size="7.9" text-anchor="middle" fill="#1a1a1a" stroke="#1a1a1a" stroke-width="0.22">4dpi.</text>
<line x1="402.80" y1="453.50" x2="451.40" y2="453.50" stroke="#444" stroke-width="1"/>
<line x1="402.50" y1="451.20" x2="402.50" y2="453.40" stroke="#444" stroke-width="1"/>
<line x1="451.50" y1="451.20" x2="451.50" y2="453.40" stroke="#444" stroke-width="1"/>
<text x="427.10" y="467.00" font-size="7.9" text-anchor="middle" fill="#1a1a1a" stroke="#1a1a1a" stroke-width="0.22">7dpi.</text>
<text x="268.00" y="343.50" font-size="8.2" font-weight="bold" text-anchor="middle" fill="#000" stroke="#000" stroke-width="0.08" transform="rotate(-90 268.00 343.50)">Nasal wash RNA Yields</text>
<text x="277.60" y="341.60" font-size="7.8" text-anchor="middle" fill="#000" stroke="#000" stroke-width="0.22" transform="rotate(-90 277.60 341.60)">Viral genome copies/γ-actin copy</text>
<text x="286.60" y="344.00" font-size="7.9" text-anchor="middle" fill="#000" stroke="#000" stroke-width="0.22" transform="rotate(-90 286.60 344.00)">log<tspan font-size="6" dy="1.6">10</tspan><tspan dy="-1.6"> scale</tspan></text>
<text x="516.00" y="271.90" font-size="17.5" font-weight="bold" text-anchor="start" fill="#000" stroke="#000" stroke-width="0.08">e</text>
<rect x="569.50" y="309.50" width="19.00" height="91.00" fill="#ff0000" stroke="#000" stroke-width="1.1"/>
<line x1="578.50" y1="309.11" x2="578.50" y2="299.02" stroke="#000" stroke-width="1"/>
<line x1="574.35" y1="299.50" x2="583.35" y2="299.50" stroke="#000" stroke-width="1"/>
<path d="M571.85 298.07L573.70 301.60L570.00 301.60Z" fill="#000" stroke="#fff" stroke-width="1.1" stroke-linejoin="round" paint-order="stroke" stroke-opacity="0.85"/>
<path d="M576.35 298.07L578.20 301.60L574.50 301.60Z" fill="#000" stroke="#fff" stroke-width="1.1" stroke-linejoin="round" paint-order="stroke" stroke-opacity="0.85"/>
<path d="M580.55 298.07L582.40 301.60L578.70 301.60Z" fill="#000" stroke="#fff" stroke-width="1.1" stroke-linejoin="round" paint-order="stroke" stroke-opacity="0.85"/>
<path d="M585.25 298.07L587.10 301.60L583.40 301.60Z" fill="#000" stroke="#fff" stroke-width="1.1" stroke-linejoin="round" paint-order="stroke" stroke-opacity="0.85"/>
<path d="M580.85 303.80L582.70 307.33L579.00 307.33Z" fill="#000" stroke="#fff" stroke-width="1.1" stroke-linejoin="round" paint-order="stroke" stroke-opacity="0.85"/>
<path d="M574.85 312.97L576.70 316.50L573.00 316.50Z" fill="#000" stroke="#fff" stroke-width="1.1" stroke-linejoin="round" paint-order="stroke" stroke-opacity="0.85"/>
<path d="M578.85 309.76L580.70 313.29L577.00 313.29Z" fill="#000" stroke="#fff" stroke-width="1.1" stroke-linejoin="round" paint-order="stroke" stroke-opacity="0.85"/>
<path d="M583.85 314.35L585.70 317.88L582.00 317.88Z" fill="#000" stroke="#fff" stroke-width="1.1" stroke-linejoin="round" paint-order="stroke" stroke-opacity="0.85"/>
<path d="M573.35 314.35L575.20 317.88L571.50 317.88Z" fill="#000" stroke="#fff" stroke-width="1.1" stroke-linejoin="round" paint-order="stroke" stroke-opacity="0.85"/>
<path d="M578.85 328.10L580.70 331.63L577.00 331.63Z" fill="#000" stroke="#fff" stroke-width="1.1" stroke-linejoin="round" paint-order="stroke" stroke-opacity="0.85"/>
<rect x="592.50" y="320.50" width="19.00" height="80.00" fill="#0000ff" stroke="#000" stroke-width="1.1"/>
<line x1="602.50" y1="320.80" x2="602.50" y2="307.27" stroke="#000" stroke-width="1"/>
<line x1="597.50" y1="307.50" x2="606.50" y2="307.50" stroke="#000" stroke-width="1"/>
<path d="M602.00 290.97L603.85 294.50L600.15 294.50Z" fill="#000" stroke="#fff" stroke-width="1.1" stroke-linejoin="round" paint-order="stroke" stroke-opacity="0.85"/>
<path d="M595.00 311.83L596.85 315.36L593.15 315.36Z" fill="#000" stroke="#fff" stroke-width="1.1" stroke-linejoin="round" paint-order="stroke" stroke-opacity="0.85"/>
<path d="M603.50 312.97L605.35 316.50L601.65 316.50Z" fill="#000" stroke="#fff" stroke-width="1.1" stroke-linejoin="round" paint-order="stroke" stroke-opacity="0.85"/>
<path d="M608.00 309.99L609.85 313.52L606.15 313.52Z" fill="#000" stroke="#fff" stroke-width="1.1" stroke-linejoin="round" paint-order="stroke" stroke-opacity="0.85"/>
<path d="M594.60 328.10L596.45 331.63L592.75 331.63Z" fill="#000" stroke="#fff" stroke-width="1.1" stroke-linejoin="round" paint-order="stroke" stroke-opacity="0.85"/>
<path d="M601.50 329.48L603.35 333.01L599.65 333.01Z" fill="#000" stroke="#fff" stroke-width="1.1" stroke-linejoin="round" paint-order="stroke" stroke-opacity="0.85"/>
<path d="M607.30 327.18L609.15 330.71L605.45 330.71Z" fill="#000" stroke="#fff" stroke-width="1.1" stroke-linejoin="round" paint-order="stroke" stroke-opacity="0.85"/>
<path d="M596.70 332.91L598.55 336.44L594.85 336.44Z" fill="#000" stroke="#fff" stroke-width="1.1" stroke-linejoin="round" paint-order="stroke" stroke-opacity="0.85"/>
<path d="M606.70 332.91L608.55 336.44L604.85 336.44Z" fill="#000" stroke="#fff" stroke-width="1.1" stroke-linejoin="round" paint-order="stroke" stroke-opacity="0.85"/>
<path d="M602.00 337.50L603.85 341.03L600.15 341.03Z" fill="#000" stroke="#fff" stroke-width="1.1" stroke-linejoin="round" paint-order="stroke" stroke-opacity="0.85"/>
<rect x="629.50" y="333.50" width="19.00" height="67.00" fill="#ff0000" stroke="#000" stroke-width="1.1"/>
<line x1="638.50" y1="333.17" x2="638.50" y2="313.00" stroke="#000" stroke-width="1"/>
<line x1="634.45" y1="313.50" x2="643.45" y2="313.50" stroke="#000" stroke-width="1"/>
<path d="M636.45 306.56L638.30 310.09L634.60 310.09Z" fill="#000" stroke="#fff" stroke-width="1.1" stroke-linejoin="round" paint-order="stroke" stroke-opacity="0.85"/>
<path d="M642.15 304.49L644.00 308.02L640.30 308.02Z" fill="#000" stroke="#fff" stroke-width="1.1" stroke-linejoin="round" paint-order="stroke" stroke-opacity="0.85"/>
<path d="M636.45 314.35L638.30 317.88L634.60 317.88Z" fill="#000" stroke="#fff" stroke-width="1.1" stroke-linejoin="round" paint-order="stroke" stroke-opacity="0.85"/>
<path d="M638.95 315.72L640.80 319.25L637.10 319.25Z" fill="#000" stroke="#fff" stroke-width="1.1" stroke-linejoin="round" paint-order="stroke" stroke-opacity="0.85"/>
<path d="M637.95 329.48L639.80 333.01L636.10 333.01Z" fill="#000" stroke="#fff" stroke-width="1.1" stroke-linejoin="round" paint-order="stroke" stroke-opacity="0.85"/>
<path d="M643.35 332.91L645.20 336.44L641.50 336.44Z" fill="#000" stroke="#fff" stroke-width="1.1" stroke-linejoin="round" paint-order="stroke" stroke-opacity="0.85"/>
<path d="M641.95 333.60L643.80 337.13L640.10 337.13Z" fill="#000" stroke="#fff" stroke-width="1.1" stroke-linejoin="round" paint-order="stroke" stroke-opacity="0.85"/>
<path d="M636.45 337.50L638.30 341.03L634.60 341.03Z" fill="#000" stroke="#fff" stroke-width="1.1" stroke-linejoin="round" paint-order="stroke" stroke-opacity="0.85"/>
<path d="M639.25 357.44L641.10 360.97L637.40 360.97Z" fill="#000" stroke="#fff" stroke-width="1.1" stroke-linejoin="round" paint-order="stroke" stroke-opacity="0.85"/>
<path d="M642.15 362.02L644.00 365.55L640.30 365.55Z" fill="#000" stroke="#fff" stroke-width="1.1" stroke-linejoin="round" paint-order="stroke" stroke-opacity="0.85"/>
<path d="M636.45 366.83L638.30 370.36L634.60 370.36Z" fill="#000" stroke="#fff" stroke-width="1.1" stroke-linejoin="round" paint-order="stroke" stroke-opacity="0.85"/>
<rect x="653.50" y="351.50" width="19.00" height="49.00" fill="#0000ff" stroke="#000" stroke-width="1.1"/>
<line x1="662.50" y1="351.74" x2="662.50" y2="337.76" stroke="#000" stroke-width="1"/>
<line x1="658.30" y1="337.50" x2="667.30" y2="337.50" stroke="#000" stroke-width="1"/>
<path d="M660.00 328.56L661.85 332.09L658.15 332.09Z" fill="#000" stroke="#fff" stroke-width="1.1" stroke-linejoin="round" paint-order="stroke" stroke-opacity="0.85"/>
<path d="M665.10 329.48L666.95 333.01L663.25 333.01Z" fill="#000" stroke="#fff" stroke-width="1.1" stroke-linejoin="round" paint-order="stroke" stroke-opacity="0.85"/>
<path d="M662.80 339.79L664.65 343.32L660.95 343.32Z" fill="#000" stroke="#fff" stroke-width="1.1" stroke-linejoin="round" paint-order="stroke" stroke-opacity="0.85"/>
<path d="M657.90 345.52L659.75 349.05L656.05 349.05Z" fill="#000" stroke="#fff" stroke-width="1.1" stroke-linejoin="round" paint-order="stroke" stroke-opacity="0.85"/>
<path d="M663.00 345.06L664.85 348.59L661.15 348.59Z" fill="#000" stroke="#fff" stroke-width="1.1" stroke-linejoin="round" paint-order="stroke" stroke-opacity="0.85"/>
<path d="M667.20 345.52L669.05 349.05L665.35 349.05Z" fill="#000" stroke="#fff" stroke-width="1.1" stroke-linejoin="round" paint-order="stroke" stroke-opacity="0.85"/>
<path d="M662.80 352.39L664.65 355.93L660.95 355.93Z" fill="#000" stroke="#fff" stroke-width="1.1" stroke-linejoin="round" paint-order="stroke" stroke-opacity="0.85"/>
<path d="M655.20 360.42L657.05 363.95L653.35 363.95Z" fill="#000" stroke="#fff" stroke-width="1.1" stroke-linejoin="round" paint-order="stroke" stroke-opacity="0.85"/>
<path d="M660.00 362.25L661.85 365.78L658.15 365.78Z" fill="#000" stroke="#fff" stroke-width="1.1" stroke-linejoin="round" paint-order="stroke" stroke-opacity="0.85"/>
<path d="M665.10 362.71L666.95 366.24L663.25 366.24Z" fill="#000" stroke="#fff" stroke-width="1.1" stroke-linejoin="round" paint-order="stroke" stroke-opacity="0.85"/>
<path d="M669.40 360.88L671.25 364.41L667.55 364.41Z" fill="#000" stroke="#fff" stroke-width="1.1" stroke-linejoin="round" paint-order="stroke" stroke-opacity="0.85"/>
<path d="M662.80 373.71L664.65 377.24L660.95 377.24Z" fill="#000" stroke="#fff" stroke-width="1.1" stroke-linejoin="round" paint-order="stroke" stroke-opacity="0.85"/>
<line x1="560.50" y1="285.00" x2="560.50" y2="400.60" stroke="#000" stroke-width="1"/>
<line x1="559.40" y1="400.50" x2="682.50" y2="400.50" stroke="#000" stroke-width="1"/>
<line x1="556.50" y1="377.50" x2="560.00" y2="377.50" stroke="#000" stroke-width="1"/>
<text x="556.00" y="380.08" font-size="8.0" font-weight="bold" text-anchor="end" fill="#000" stroke="#000" stroke-width="0.08" textLength="4.0" lengthAdjust="spacingAndGlyphs">1</text>
<line x1="556.50" y1="331.50" x2="560.00" y2="331.50" stroke="#000" stroke-width="1"/>
<text x="556.00" y="334.24" font-size="8.0" font-weight="bold" text-anchor="end" fill="#000" stroke="#000" stroke-width="0.08" textLength="4.0" lengthAdjust="spacingAndGlyphs">3</text>
<line x1="556.50" y1="285.50" x2="560.00" y2="285.50" stroke="#000" stroke-width="1"/>
<text x="556.00" y="288.40" font-size="8.0" font-weight="bold" text-anchor="end" fill="#000" stroke="#000" stroke-width="0.08" textLength="4.0" lengthAdjust="spacingAndGlyphs">5</text>
<line x1="557.80" y1="400.50" x2="560.00" y2="400.50" stroke="#000" stroke-width="1"/>
<line x1="557.80" y1="354.50" x2="560.00" y2="354.50" stroke="#000" stroke-width="1"/>
<line x1="557.80" y1="308.50" x2="560.00" y2="308.50" stroke="#000" stroke-width="1"/>
<line x1="578.50" y1="400.10" x2="578.50" y2="403.10" stroke="#000" stroke-width="1"/>
<text x="581.35" y="410.10" font-size="7.9" font-weight="bold" text-anchor="end" fill="#000" stroke="#000" stroke-width="0.08" transform="rotate(-45 581.35 410.10)">G614 strain</text>
<line x1="602.50" y1="400.10" x2="602.50" y2="403.10" stroke="#000" stroke-width="1"/>
<text x="604.50" y="410.10" font-size="7.9" font-weight="bold" text-anchor="end" fill="#000" stroke="#000" stroke-width="0.08" transform="rotate(-45 604.50 410.10)">Alpha variant</text>
<line x1="638.50" y1="400.10" x2="638.50" y2="403.10" stroke="#000" stroke-width="1"/>
<text x="641.45" y="410.10" font-size="7.9" font-weight="bold" text-anchor="end" fill="#000" stroke="#000" stroke-width="0.08" transform="rotate(-45 641.45 410.10)">G614 strain</text>
<line x1="662.50" y1="400.10" x2="662.50" y2="403.10" stroke="#000" stroke-width="1"/>
<text x="665.30" y="410.10" font-size="7.9" font-weight="bold" text-anchor="end" fill="#000" stroke="#000" stroke-width="0.08" transform="rotate(-45 665.30 410.10)">Alpha variant</text>
<line x1="540.70" y1="453.50" x2="589.00" y2="453.50" stroke="#444" stroke-width="1"/>
<line x1="540.50" y1="451.70" x2="540.50" y2="453.90" stroke="#444" stroke-width="1"/>
<line x1="589.50" y1="451.70" x2="589.50" y2="453.90" stroke="#444" stroke-width="1"/>
<text x="564.85" y="466.20" font-size="7.9" text-anchor="middle" fill="#1a1a1a" stroke="#1a1a1a" stroke-width="0.22">2dpi.</text>
<line x1="600.70" y1="453.50" x2="649.00" y2="453.50" stroke="#444" stroke-width="1"/>
<line x1="600.50" y1="451.70" x2="600.50" y2="453.90" stroke="#444" stroke-width="1"/>
<line x1="649.50" y1="451.70" x2="649.50" y2="453.90" stroke="#444" stroke-width="1"/>
<text x="624.85" y="466.20" font-size="7.9" text-anchor="middle" fill="#1a1a1a" stroke="#1a1a1a" stroke-width="0.22">4dpi.</text>
<line x1="579.80" y1="288.10" x2="600.70" y2="288.10" stroke="#959595" stroke-width="1.35"/>
<text x="590.25" y="288.50" font-size="8.5" font-weight="bold" text-anchor="middle" fill="#111" stroke="#111" stroke-width="0.08">*</text>
<line x1="641.30" y1="300.50" x2="661.00" y2="300.50" stroke="#959595" stroke-width="1.35"/>
<text x="651.15" y="300.90" font-size="8.5" font-weight="bold" text-anchor="middle" fill="#111" stroke="#111" stroke-width="0.08">*</text>
<text x="525.70" y="343.80" font-size="8.3" font-weight="bold" text-anchor="middle" fill="#000" stroke="#000" stroke-width="0.08" transform="rotate(-90 525.70 343.80)">Gut RNA Yields</text>
<text x="534.80" y="343.50" font-size="8.1" text-anchor="middle" fill="#000" stroke="#000" stroke-width="0.22" transform="rotate(-90 534.80 343.50)">Viral genome copies/gram</text>
<text x="544.90" y="343.20" font-size="7.9" text-anchor="middle" fill="#000" stroke="#000" stroke-width="0.22" transform="rotate(-90 544.90 343.20)">log<tspan font-size="6" dy="1.6">10</tspan><tspan dy="-1.6"> scale</tspan></text>
<text x="0.30" y="502.10" font-size="17.5" font-weight="bold" text-anchor="start" fill="#000" stroke="#000" stroke-width="0.08">f</text>
<rect x="50.50" y="549.50" width="18.00" height="82.00" fill="#ff0000" stroke="#000" stroke-width="1.1"/>
<line x1="59.50" y1="549.42" x2="59.50" y2="538.26" stroke="#000" stroke-width="1"/>
<line x1="54.75" y1="538.50" x2="63.75" y2="538.50" stroke="#000" stroke-width="1"/>
<path d="M56.65 531.82L58.50 535.35L54.80 535.35Z" fill="#000" stroke="#fff" stroke-width="1.1" stroke-linejoin="round" paint-order="stroke" stroke-opacity="0.85"/>
<path d="M61.35 531.25L63.20 534.78L59.50 534.78Z" fill="#000" stroke="#fff" stroke-width="1.1" stroke-linejoin="round" paint-order="stroke" stroke-opacity="0.85"/>
<path d="M53.95 540.12L55.80 543.65L52.10 543.65Z" fill="#000" stroke="#fff" stroke-width="1.1" stroke-linejoin="round" paint-order="stroke" stroke-opacity="0.85"/>
<path d="M64.15 539.54L66.00 543.07L62.30 543.07Z" fill="#000" stroke="#fff" stroke-width="1.1" stroke-linejoin="round" paint-order="stroke" stroke-opacity="0.85"/>
<path d="M56.65 549.56L58.50 553.09L54.80 553.09Z" fill="#000" stroke="#fff" stroke-width="1.1" stroke-linejoin="round" paint-order="stroke" stroke-opacity="0.85"/>
<path d="M61.35 548.98L63.20 552.51L59.50 552.51Z" fill="#000" stroke="#fff" stroke-width="1.1" stroke-linejoin="round" paint-order="stroke" stroke-opacity="0.85"/>
<path d="M64.15 553.27L66.00 556.80L62.30 556.80Z" fill="#000" stroke="#fff" stroke-width="1.1" stroke-linejoin="round" paint-order="stroke" stroke-opacity="0.85"/>
<path d="M53.95 556.71L55.80 560.24L52.10 560.24Z" fill="#000" stroke="#fff" stroke-width="1.1" stroke-linejoin="round" paint-order="stroke" stroke-opacity="0.85"/>
<path d="M58.95 557.28L60.80 560.81L57.10 560.81Z" fill="#000" stroke="#fff" stroke-width="1.1" stroke-linejoin="round" paint-order="stroke" stroke-opacity="0.85"/>
<path d="M61.35 559.57L63.20 563.10L59.50 563.10Z" fill="#000" stroke="#fff" stroke-width="1.1" stroke-linejoin="round" paint-order="stroke" stroke-opacity="0.85"/>
<path d="M56.65 564.43L58.50 567.96L54.80 567.96Z" fill="#000" stroke="#fff" stroke-width="1.1" stroke-linejoin="round" paint-order="stroke" stroke-opacity="0.85"/>
<rect x="72.50" y="560.50" width="17.00" height="71.00" fill="#0000ff" stroke="#000" stroke-width="1.1"/>
<line x1="81.50" y1="560.57" x2="81.50" y2="543.70" stroke="#000" stroke-width="1"/>
<line x1="76.50" y1="543.50" x2="85.50" y2="543.50" stroke="#000" stroke-width="1"/>
<path d="M78.50 533.25L80.35 536.78L76.65 536.78Z" fill="#000" stroke="#fff" stroke-width="1.1" stroke-linejoin="round" paint-order="stroke" stroke-opacity="0.85"/>
<path d="M83.50 535.54L85.35 539.07L81.65 539.07Z" fill="#000" stroke="#fff" stroke-width="1.1" stroke-linejoin="round" paint-order="stroke" stroke-opacity="0.85"/>
<path d="M83.80 543.26L85.65 546.79L81.95 546.79Z" fill="#000" stroke="#fff" stroke-width="1.1" stroke-linejoin="round" paint-order="stroke" stroke-opacity="0.85"/>
<path d="M75.90 548.41L77.75 551.94L74.05 551.94Z" fill="#000" stroke="#fff" stroke-width="1.1" stroke-linejoin="round" paint-order="stroke" stroke-opacity="0.85"/>
<path d="M78.50 552.13L80.35 555.66L76.65 555.66Z" fill="#000" stroke="#fff" stroke-width="1.1" stroke-linejoin="round" paint-order="stroke" stroke-opacity="0.85"/>
<path d="M83.50 557.28L85.35 560.81L81.65 560.81Z" fill="#000" stroke="#fff" stroke-width="1.1" stroke-linejoin="round" paint-order="stroke" stroke-opacity="0.85"/>
<path d="M74.70 569.58L76.55 573.11L72.85 573.11Z" fill="#000" stroke="#fff" stroke-width="1.1" stroke-linejoin="round" paint-order="stroke" stroke-opacity="0.85"/>
<path d="M81.00 568.14L82.85 571.67L79.15 571.67Z" fill="#000" stroke="#fff" stroke-width="1.1" stroke-linejoin="round" paint-order="stroke" stroke-opacity="0.85"/>
<path d="M87.70 571.00L89.55 574.53L85.85 574.53Z" fill="#000" stroke="#fff" stroke-width="1.1" stroke-linejoin="round" paint-order="stroke" stroke-opacity="0.85"/>
<path d="M78.50 574.44L80.35 577.97L76.65 577.97Z" fill="#000" stroke="#fff" stroke-width="1.1" stroke-linejoin="round" paint-order="stroke" stroke-opacity="0.85"/>
<path d="M83.50 574.44L85.35 577.97L81.65 577.97Z" fill="#000" stroke="#fff" stroke-width="1.1" stroke-linejoin="round" paint-order="stroke" stroke-opacity="0.85"/>
<path d="M81.00 583.88L82.85 587.40L79.15 587.40Z" fill="#000" stroke="#fff" stroke-width="1.1" stroke-linejoin="round" paint-order="stroke" stroke-opacity="0.85"/>
<rect x="107.50" y="565.50" width="18.00" height="66.00" fill="#ff0000" stroke="#000" stroke-width="1.1"/>
<line x1="116.50" y1="565.15" x2="116.50" y2="551.99" stroke="#000" stroke-width="1"/>
<line x1="111.70" y1="551.50" x2="120.70" y2="551.50" stroke="#000" stroke-width="1"/>
<path d="M118.50 546.41L120.35 549.94L116.65 549.94Z" fill="#000" stroke="#fff" stroke-width="1.1" stroke-linejoin="round" paint-order="stroke" stroke-opacity="0.85"/>
<path d="M113.60 549.56L115.45 553.09L111.75 553.09Z" fill="#000" stroke="#fff" stroke-width="1.1" stroke-linejoin="round" paint-order="stroke" stroke-opacity="0.85"/>
<path d="M110.90 552.99L112.75 556.52L109.05 556.52Z" fill="#000" stroke="#fff" stroke-width="1.1" stroke-linejoin="round" paint-order="stroke" stroke-opacity="0.85"/>
<path d="M120.90 552.41L122.75 555.94L119.05 555.94Z" fill="#000" stroke="#fff" stroke-width="1.1" stroke-linejoin="round" paint-order="stroke" stroke-opacity="0.85"/>
<path d="M113.60 560.42L115.45 563.95L111.75 563.95Z" fill="#000" stroke="#fff" stroke-width="1.1" stroke-linejoin="round" paint-order="stroke" stroke-opacity="0.85"/>
<path d="M118.50 559.85L120.35 563.38L116.65 563.38Z" fill="#000" stroke="#fff" stroke-width="1.1" stroke-linejoin="round" paint-order="stroke" stroke-opacity="0.85"/>
<path d="M116.20 567.57L118.05 571.10L114.35 571.10Z" fill="#000" stroke="#fff" stroke-width="1.1" stroke-linejoin="round" paint-order="stroke" stroke-opacity="0.85"/>
<path d="M116.20 574.44L118.05 577.97L114.35 577.97Z" fill="#000" stroke="#fff" stroke-width="1.1" stroke-linejoin="round" paint-order="stroke" stroke-opacity="0.85"/>
<path d="M113.20 577.30L115.05 580.83L111.35 580.83Z" fill="#000" stroke="#fff" stroke-width="1.1" stroke-linejoin="round" paint-order="stroke" stroke-opacity="0.85"/>
<path d="M118.50 580.44L120.35 583.97L116.65 583.97Z" fill="#000" stroke="#fff" stroke-width="1.1" stroke-linejoin="round" paint-order="stroke" stroke-opacity="0.85"/>
<path d="M116.20 587.59L118.05 591.12L114.35 591.12Z" fill="#000" stroke="#fff" stroke-width="1.1" stroke-linejoin="round" paint-order="stroke" stroke-opacity="0.85"/>
<rect x="129.50" y="566.50" width="17.00" height="65.00" fill="#0000ff" stroke="#000" stroke-width="1.1"/>
<line x1="137.50" y1="566.01" x2="137.50" y2="551.99" stroke="#000" stroke-width="1"/>
<line x1="133.45" y1="551.50" x2="142.45" y2="551.50" stroke="#000" stroke-width="1"/>
<path d="M137.95 542.69L139.80 546.22L136.10 546.22Z" fill="#000" stroke="#fff" stroke-width="1.1" stroke-linejoin="round" paint-order="stroke" stroke-opacity="0.85"/>
<path d="M137.95 551.27L139.80 554.80L136.10 554.80Z" fill="#000" stroke="#fff" stroke-width="1.1" stroke-linejoin="round" paint-order="stroke" stroke-opacity="0.85"/>
<path d="M131.55 559.28L133.40 562.81L129.70 562.81Z" fill="#000" stroke="#fff" stroke-width="1.1" stroke-linejoin="round" paint-order="stroke" stroke-opacity="0.85"/>
<path d="M134.65 561.00L136.50 564.52L132.80 564.52Z" fill="#000" stroke="#fff" stroke-width="1.1" stroke-linejoin="round" paint-order="stroke" stroke-opacity="0.85"/>
<path d="M141.25 561.00L143.10 564.52L139.40 564.52Z" fill="#000" stroke="#fff" stroke-width="1.1" stroke-linejoin="round" paint-order="stroke" stroke-opacity="0.85"/>
<path d="M144.25 559.28L146.10 562.81L142.40 562.81Z" fill="#000" stroke="#fff" stroke-width="1.1" stroke-linejoin="round" paint-order="stroke" stroke-opacity="0.85"/>
<path d="M142.95 570.43L144.80 573.96L141.10 573.96Z" fill="#000" stroke="#fff" stroke-width="1.1" stroke-linejoin="round" paint-order="stroke" stroke-opacity="0.85"/>
<path d="M132.85 574.72L134.70 578.25L131.00 578.25Z" fill="#000" stroke="#fff" stroke-width="1.1" stroke-linejoin="round" paint-order="stroke" stroke-opacity="0.85"/>
<path d="M137.95 575.29L139.80 578.82L136.10 578.82Z" fill="#000" stroke="#fff" stroke-width="1.1" stroke-linejoin="round" paint-order="stroke" stroke-opacity="0.85"/>
<path d="M137.95 599.03L139.80 602.56L136.10 602.56Z" fill="#000" stroke="#fff" stroke-width="1.1" stroke-linejoin="round" paint-order="stroke" stroke-opacity="0.85"/>
<line x1="41.50" y1="516.60" x2="41.50" y2="632.00" stroke="#000" stroke-width="1"/>
<line x1="41.20" y1="631.50" x2="165.50" y2="631.50" stroke="#000" stroke-width="1"/>
<line x1="38.30" y1="631.50" x2="41.80" y2="631.50" stroke="#000" stroke-width="1"/>
<text x="37.80" y="634.40" font-size="8.0" font-weight="bold" text-anchor="end" fill="#000" stroke="#000" stroke-width="0.08" textLength="4.0" lengthAdjust="spacingAndGlyphs">4</text>
<line x1="38.30" y1="602.50" x2="41.80" y2="602.50" stroke="#000" stroke-width="1"/>
<text x="37.80" y="605.80" font-size="8.0" font-weight="bold" text-anchor="end" fill="#000" stroke="#000" stroke-width="0.08" textLength="4.0" lengthAdjust="spacingAndGlyphs">5</text>
<line x1="38.30" y1="574.50" x2="41.80" y2="574.50" stroke="#000" stroke-width="1"/>
<text x="37.80" y="577.20" font-size="8.0" font-weight="bold" text-anchor="end" fill="#000" stroke="#000" stroke-width="0.08" textLength="4.0" lengthAdjust="spacingAndGlyphs">6</text>
<line x1="38.30" y1="545.50" x2="41.80" y2="545.50" stroke="#000" stroke-width="1"/>
<text x="37.80" y="548.60" font-size="8.0" font-weight="bold" text-anchor="end" fill="#000" stroke="#000" stroke-width="0.08" textLength="4.0" lengthAdjust="spacingAndGlyphs">7</text>
<line x1="38.30" y1="517.50" x2="41.80" y2="517.50" stroke="#000" stroke-width="1"/>
<text x="37.80" y="520.00" font-size="8.0" font-weight="bold" text-anchor="end" fill="#000" stroke="#000" stroke-width="0.08" textLength="4.0" lengthAdjust="spacingAndGlyphs">8</text>
<line x1="39.60" y1="617.50" x2="41.80" y2="617.50" stroke="#000" stroke-width="1"/>
<line x1="39.60" y1="588.50" x2="41.80" y2="588.50" stroke="#000" stroke-width="1"/>
<line x1="39.60" y1="560.50" x2="41.80" y2="560.50" stroke="#000" stroke-width="1"/>
<line x1="39.60" y1="531.50" x2="41.80" y2="531.50" stroke="#000" stroke-width="1"/>
<line x1="59.50" y1="631.50" x2="59.50" y2="634.50" stroke="#000" stroke-width="1"/>
<text x="61.75" y="641.50" font-size="7.9" font-weight="bold" text-anchor="end" fill="#000" stroke="#000" stroke-width="0.08" transform="rotate(-45 61.75 641.50)">G614 strain</text>
<line x1="81.50" y1="631.50" x2="81.50" y2="634.50" stroke="#000" stroke-width="1"/>
<text x="83.50" y="641.50" font-size="7.9" font-weight="bold" text-anchor="end" fill="#000" stroke="#000" stroke-width="0.08" transform="rotate(-45 83.50 641.50)">Alpha variant</text>
<line x1="116.50" y1="631.50" x2="116.50" y2="634.50" stroke="#000" stroke-width="1"/>
<text x="118.70" y="641.50" font-size="7.9" font-weight="bold" text-anchor="end" fill="#000" stroke="#000" stroke-width="0.08" transform="rotate(-45 118.70 641.50)">G614 strain</text>
<line x1="137.50" y1="631.50" x2="137.50" y2="634.50" stroke="#000" stroke-width="1"/>
<text x="140.45" y="641.50" font-size="7.9" font-weight="bold" text-anchor="end" fill="#000" stroke="#000" stroke-width="0.08" transform="rotate(-45 140.45 641.50)">Alpha variant</text>
<line x1="20.40" y1="685.50" x2="69.50" y2="685.50" stroke="#444" stroke-width="1"/>
<line x1="20.50" y1="683.50" x2="20.50" y2="685.70" stroke="#444" stroke-width="1"/>
<line x1="69.50" y1="683.50" x2="69.50" y2="685.70" stroke="#444" stroke-width="1"/>
<text x="44.95" y="699.10" font-size="7.9" text-anchor="middle" fill="#1a1a1a" stroke="#1a1a1a" stroke-width="0.22">2dpi.</text>
<line x1="78.20" y1="685.50" x2="126.40" y2="685.50" stroke="#444" stroke-width="1"/>
<line x1="78.50" y1="683.50" x2="78.50" y2="685.70" stroke="#444" stroke-width="1"/>
<line x1="126.50" y1="683.50" x2="126.50" y2="685.70" stroke="#444" stroke-width="1"/>
<text x="102.30" y="699.10" font-size="7.9" text-anchor="middle" fill="#1a1a1a" stroke="#1a1a1a" stroke-width="0.22">4dpi.</text>
<text x="7.80" y="570.80" font-size="7.7" font-weight="bold" text-anchor="middle" fill="#000" stroke="#000" stroke-width="0.08" transform="rotate(-90 7.80 570.80)">Lung infectious titers</text>
<text x="17.00" y="574.00" font-size="7.9" text-anchor="middle" fill="#000" stroke="#000" stroke-width="0.22" transform="rotate(-90 17.00 574.00)">TCID<tspan font-size="5.6" dy="1.6">50</tspan><tspan dy="-1.6">/gram</tspan></text>
<text x="26.60" y="574.70" font-size="7.9" text-anchor="middle" fill="#000" stroke="#000" stroke-width="0.22" transform="rotate(-90 26.60 574.70)">log10 scale</text>
<text x="197.50" y="501.80" font-size="17.5" font-weight="bold" text-anchor="start" fill="#000" stroke="#000" stroke-width="0.08">g</text>
<rect x="251.50" y="571.50" width="19.00" height="60.00" fill="#ff0000" stroke="#000" stroke-width="1.1"/>
<line x1="260.50" y1="571.27" x2="260.50" y2="546.57" stroke="#000" stroke-width="1"/>
<line x1="256.40" y1="546.50" x2="265.40" y2="546.50" stroke="#000" stroke-width="1"/>
<path d="M260.90 534.25L262.75 537.78L259.05 537.78Z" fill="#000" stroke="#fff" stroke-width="1.1" stroke-linejoin="round" paint-order="stroke" stroke-opacity="0.85"/>
<path d="M260.90 539.95L262.75 543.48L259.05 543.48Z" fill="#000" stroke="#fff" stroke-width="1.1" stroke-linejoin="round" paint-order="stroke" stroke-opacity="0.85"/>
<path d="M260.90 548.88L262.75 552.41L259.05 552.41Z" fill="#000" stroke="#fff" stroke-width="1.1" stroke-linejoin="round" paint-order="stroke" stroke-opacity="0.85"/>
<path d="M263.40 557.81L265.25 561.34L261.55 561.34Z" fill="#000" stroke="#fff" stroke-width="1.1" stroke-linejoin="round" paint-order="stroke" stroke-opacity="0.85"/>
<path d="M258.40 562.75L260.25 566.28L256.55 566.28Z" fill="#000" stroke="#fff" stroke-width="1.1" stroke-linejoin="round" paint-order="stroke" stroke-opacity="0.85"/>
<path d="M258.40 570.74L260.25 574.26L256.55 574.26Z" fill="#000" stroke="#fff" stroke-width="1.1" stroke-linejoin="round" paint-order="stroke" stroke-opacity="0.85"/>
<path d="M263.40 571.12L265.25 574.64L261.55 574.64Z" fill="#000" stroke="#fff" stroke-width="1.1" stroke-linejoin="round" paint-order="stroke" stroke-opacity="0.85"/>
<path d="M260.90 588.22L262.75 591.75L259.05 591.75Z" fill="#000" stroke="#fff" stroke-width="1.1" stroke-linejoin="round" paint-order="stroke" stroke-opacity="0.85"/>
<path d="M260.90 597.72L262.75 601.25L259.05 601.25Z" fill="#000" stroke="#fff" stroke-width="1.1" stroke-linejoin="round" paint-order="stroke" stroke-opacity="0.85"/>
<path d="M258.40 604.37L260.25 607.89L256.55 607.89Z" fill="#000" stroke="#fff" stroke-width="1.1" stroke-linejoin="round" paint-order="stroke" stroke-opacity="0.85"/>
<path d="M263.40 604.37L265.25 607.89L261.55 607.89Z" fill="#000" stroke="#fff" stroke-width="1.1" stroke-linejoin="round" paint-order="stroke" stroke-opacity="0.85"/>
<rect x="275.50" y="571.50" width="19.00" height="60.00" fill="#0000ff" stroke="#000" stroke-width="1.1"/>
<line x1="284.50" y1="571.84" x2="284.50" y2="555.50" stroke="#000" stroke-width="1"/>
<line x1="280.10" y1="555.50" x2="289.10" y2="555.50" stroke="#000" stroke-width="1"/>
<path d="M282.20 547.93L284.05 551.46L280.35 551.46Z" fill="#000" stroke="#fff" stroke-width="1.1" stroke-linejoin="round" paint-order="stroke" stroke-opacity="0.85"/>
<path d="M287.10 550.22L288.95 553.75L285.25 553.75Z" fill="#000" stroke="#fff" stroke-width="1.1" stroke-linejoin="round" paint-order="stroke" stroke-opacity="0.85"/>
<path d="M282.20 558.38L284.05 561.91L280.35 561.91Z" fill="#000" stroke="#fff" stroke-width="1.1" stroke-linejoin="round" paint-order="stroke" stroke-opacity="0.85"/>
<path d="M287.10 555.53L288.95 559.06L285.25 559.06Z" fill="#000" stroke="#fff" stroke-width="1.1" stroke-linejoin="round" paint-order="stroke" stroke-opacity="0.85"/>
<path d="M282.20 567.31L284.05 570.84L280.35 570.84Z" fill="#000" stroke="#fff" stroke-width="1.1" stroke-linejoin="round" paint-order="stroke" stroke-opacity="0.85"/>
<path d="M289.80 567.31L291.65 570.84L287.95 570.84Z" fill="#000" stroke="#fff" stroke-width="1.1" stroke-linejoin="round" paint-order="stroke" stroke-opacity="0.85"/>
<path d="M287.10 571.12L288.95 574.64L285.25 574.64Z" fill="#000" stroke="#fff" stroke-width="1.1" stroke-linejoin="round" paint-order="stroke" stroke-opacity="0.85"/>
<path d="M279.50 574.53L281.35 578.06L277.65 578.06Z" fill="#000" stroke="#fff" stroke-width="1.1" stroke-linejoin="round" paint-order="stroke" stroke-opacity="0.85"/>
<path d="M282.20 578.34L284.05 581.87L280.35 581.87Z" fill="#000" stroke="#fff" stroke-width="1.1" stroke-linejoin="round" paint-order="stroke" stroke-opacity="0.85"/>
<path d="M287.10 583.09L288.95 586.62L285.25 586.62Z" fill="#000" stroke="#fff" stroke-width="1.1" stroke-linejoin="round" paint-order="stroke" stroke-opacity="0.85"/>
<path d="M282.20 596.58L284.05 600.11L280.35 600.11Z" fill="#000" stroke="#fff" stroke-width="1.1" stroke-linejoin="round" paint-order="stroke" stroke-opacity="0.85"/>
<path d="M287.10 596.00L288.95 599.53L285.25 599.53Z" fill="#000" stroke="#fff" stroke-width="1.1" stroke-linejoin="round" paint-order="stroke" stroke-opacity="0.85"/>
<rect x="313.50" y="603.50" width="19.00" height="28.00" fill="#ff0000" stroke="#000" stroke-width="1.1"/>
<line x1="322.50" y1="603.38" x2="322.50" y2="592.93" stroke="#000" stroke-width="1"/>
<line x1="318.05" y1="592.50" x2="327.05" y2="592.50" stroke="#000" stroke-width="1"/>
<path d="M322.55 572.06L324.40 575.59L320.70 575.59Z" fill="#000" stroke="#fff" stroke-width="1.1" stroke-linejoin="round" paint-order="stroke" stroke-opacity="0.85"/>
<path d="M322.55 595.25L324.40 598.77L320.70 598.77Z" fill="#000" stroke="#fff" stroke-width="1.1" stroke-linejoin="round" paint-order="stroke" stroke-opacity="0.85"/>
<path d="M317.85 600.94L319.70 604.47L316.00 604.47Z" fill="#000" stroke="#fff" stroke-width="1.1" stroke-linejoin="round" paint-order="stroke" stroke-opacity="0.85"/>
<path d="M327.25 600.94L329.10 604.47L325.40 604.47Z" fill="#000" stroke="#fff" stroke-width="1.1" stroke-linejoin="round" paint-order="stroke" stroke-opacity="0.85"/>
<path d="M315.95 606.26L317.80 609.79L314.10 609.79Z" fill="#000" stroke="#fff" stroke-width="1.1" stroke-linejoin="round" paint-order="stroke" stroke-opacity="0.85"/>
<path d="M319.75 607.22L321.60 610.75L317.90 610.75Z" fill="#000" stroke="#fff" stroke-width="1.1" stroke-linejoin="round" paint-order="stroke" stroke-opacity="0.85"/>
<path d="M323.55 608.36L325.40 611.88L321.70 611.88Z" fill="#000" stroke="#fff" stroke-width="1.1" stroke-linejoin="round" paint-order="stroke" stroke-opacity="0.85"/>
<path d="M327.25 606.26L329.10 609.79L325.40 609.79Z" fill="#000" stroke="#fff" stroke-width="1.1" stroke-linejoin="round" paint-order="stroke" stroke-opacity="0.85"/>
<path d="M329.05 604.93L330.90 608.46L327.20 608.46Z" fill="#000" stroke="#fff" stroke-width="1.1" stroke-linejoin="round" paint-order="stroke" stroke-opacity="0.85"/>
<rect x="336.50" y="606.50" width="19.00" height="25.00" fill="#0000ff" stroke="#000" stroke-width="1.1"/>
<line x1="345.50" y1="606.04" x2="345.50" y2="600.34" stroke="#000" stroke-width="1"/>
<line x1="341.40" y1="600.50" x2="350.40" y2="600.50" stroke="#000" stroke-width="1"/>
<path d="M345.90 593.35L347.75 596.88L344.05 596.88Z" fill="#000" stroke="#fff" stroke-width="1.1" stroke-linejoin="round" paint-order="stroke" stroke-opacity="0.85"/>
<path d="M348.50 597.72L350.35 601.25L346.65 601.25Z" fill="#000" stroke="#fff" stroke-width="1.1" stroke-linejoin="round" paint-order="stroke" stroke-opacity="0.85"/>
<path d="M341.50 600.56L343.35 604.09L339.65 604.09Z" fill="#000" stroke="#fff" stroke-width="1.1" stroke-linejoin="round" paint-order="stroke" stroke-opacity="0.85"/>
<path d="M340.50 606.64L342.35 610.17L338.65 610.17Z" fill="#000" stroke="#fff" stroke-width="1.1" stroke-linejoin="round" paint-order="stroke" stroke-opacity="0.85"/>
<path d="M344.00 606.26L345.85 609.79L342.15 609.79Z" fill="#000" stroke="#fff" stroke-width="1.1" stroke-linejoin="round" paint-order="stroke" stroke-opacity="0.85"/>
<path d="M348.10 606.26L349.95 609.79L346.25 609.79Z" fill="#000" stroke="#fff" stroke-width="1.1" stroke-linejoin="round" paint-order="stroke" stroke-opacity="0.85"/>
<path d="M350.90 606.64L352.75 610.17L349.05 610.17Z" fill="#000" stroke="#fff" stroke-width="1.1" stroke-linejoin="round" paint-order="stroke" stroke-opacity="0.85"/>
<path d="M340.50 609.50L342.35 613.02L338.65 613.02Z" fill="#000" stroke="#fff" stroke-width="1.1" stroke-linejoin="round" paint-order="stroke" stroke-opacity="0.85"/>
<path d="M345.90 612.91L347.75 616.44L344.05 616.44Z" fill="#000" stroke="#fff" stroke-width="1.1" stroke-linejoin="round" paint-order="stroke" stroke-opacity="0.85"/>
<path d="M350.90 612.91L352.75 616.44L349.05 616.44Z" fill="#000" stroke="#fff" stroke-width="1.1" stroke-linejoin="round" paint-order="stroke" stroke-opacity="0.85"/>
<line x1="241.50" y1="517.00" x2="241.50" y2="632.00" stroke="#000" stroke-width="1"/>
<line x1="241.20" y1="631.50" x2="365.50" y2="631.50" stroke="#000" stroke-width="1"/>
<line x1="238.30" y1="631.50" x2="241.80" y2="631.50" stroke="#000" stroke-width="1"/>
<text x="237.80" y="634.40" font-size="8.0" font-weight="bold" text-anchor="end" fill="#000" stroke="#000" stroke-width="0.08" textLength="6.8" lengthAdjust="spacingAndGlyphs">-2</text>
<line x1="238.30" y1="593.50" x2="241.80" y2="593.50" stroke="#000" stroke-width="1"/>
<text x="237.80" y="596.40" font-size="8.0" font-weight="bold" text-anchor="end" fill="#000" stroke="#000" stroke-width="0.08" textLength="4.0" lengthAdjust="spacingAndGlyphs">0</text>
<line x1="238.30" y1="555.50" x2="241.80" y2="555.50" stroke="#000" stroke-width="1"/>
<text x="237.80" y="558.40" font-size="8.0" font-weight="bold" text-anchor="end" fill="#000" stroke="#000" stroke-width="0.08" textLength="4.0" lengthAdjust="spacingAndGlyphs">2</text>
<line x1="238.30" y1="517.50" x2="241.80" y2="517.50" stroke="#000" stroke-width="1"/>
<text x="237.80" y="520.40" font-size="8.0" font-weight="bold" text-anchor="end" fill="#000" stroke="#000" stroke-width="0.08" textLength="4.0" lengthAdjust="spacingAndGlyphs">4</text>
<line x1="239.60" y1="612.50" x2="241.80" y2="612.50" stroke="#000" stroke-width="1"/>
<line x1="239.60" y1="574.50" x2="241.80" y2="574.50" stroke="#000" stroke-width="1"/>
<line x1="239.60" y1="536.50" x2="241.80" y2="536.50" stroke="#000" stroke-width="1"/>
<line x1="260.50" y1="631.50" x2="260.50" y2="634.50" stroke="#000" stroke-width="1"/>
<text x="263.40" y="641.50" font-size="7.9" font-weight="bold" text-anchor="end" fill="#000" stroke="#000" stroke-width="0.08" transform="rotate(-45 263.40 641.50)">G614 strain</text>
<line x1="284.50" y1="631.50" x2="284.50" y2="634.50" stroke="#000" stroke-width="1"/>
<text x="287.10" y="641.50" font-size="7.9" font-weight="bold" text-anchor="end" fill="#000" stroke="#000" stroke-width="0.08" transform="rotate(-45 287.10 641.50)">Alpha variant</text>
<line x1="322.50" y1="631.50" x2="322.50" y2="634.50" stroke="#000" stroke-width="1"/>
<text x="325.05" y="641.50" font-size="7.9" font-weight="bold" text-anchor="end" fill="#000" stroke="#000" stroke-width="0.08" transform="rotate(-45 325.05 641.50)">G614 strain</text>
<line x1="345.50" y1="631.50" x2="345.50" y2="634.50" stroke="#000" stroke-width="1"/>
<text x="348.40" y="641.50" font-size="7.9" font-weight="bold" text-anchor="end" fill="#000" stroke="#000" stroke-width="0.08" transform="rotate(-45 348.40 641.50)">Alpha variant</text>
<line x1="223.30" y1="685.50" x2="272.40" y2="685.50" stroke="#444" stroke-width="1"/>
<line x1="223.50" y1="683.60" x2="223.50" y2="685.80" stroke="#444" stroke-width="1"/>
<line x1="272.50" y1="683.60" x2="272.50" y2="685.80" stroke="#444" stroke-width="1"/>
<text x="247.85" y="698.70" font-size="7.9" text-anchor="middle" fill="#1a1a1a" stroke="#1a1a1a" stroke-width="0.22">2dpi.</text>
<line x1="283.50" y1="685.50" x2="332.20" y2="685.50" stroke="#444" stroke-width="1"/>
<line x1="283.50" y1="683.60" x2="283.50" y2="685.80" stroke="#444" stroke-width="1"/>
<line x1="332.50" y1="683.60" x2="332.50" y2="685.80" stroke="#444" stroke-width="1"/>
<text x="307.85" y="698.70" font-size="7.9" text-anchor="middle" fill="#1a1a1a" stroke="#1a1a1a" stroke-width="0.22">4dpi.</text>
<text x="208.20" y="574.70" font-size="8.3" font-weight="bold" text-anchor="middle" fill="#000" stroke="#000" stroke-width="0.08" transform="rotate(-90 208.20 574.70)">Nasal wash infectious titers</text>
<text x="217.40" y="570.40" font-size="7.9" text-anchor="middle" fill="#000" stroke="#000" stroke-width="0.22" transform="rotate(-90 217.40 570.40)">TCID<tspan font-size="5.6" dy="1.6">50</tspan><tspan dy="-1.6">/γ-actin copy</tspan></text>
<text x="227.30" y="575.50" font-size="7.9" text-anchor="middle" fill="#000" stroke="#000" stroke-width="0.22" transform="rotate(-90 227.30 575.50)">log10 scale</text>
<text x="0.50" y="724.70" font-size="17.5" font-weight="bold" text-anchor="start" fill="#000" stroke="#000" stroke-width="0.08">h</text>
<line x1="43.50" y1="826.50" x2="150.50" y2="826.50" stroke="#222" stroke-width="1" stroke-dasharray="1.1 2.3"/>
<line x1="41.50" y1="745.30" x2="41.50" y2="861.70" stroke="#000" stroke-width="1"/>
<line x1="41.20" y1="861.50" x2="151.30" y2="861.50" stroke="#000" stroke-width="1"/>
<line x1="38.30" y1="861.50" x2="41.80" y2="861.50" stroke="#000" stroke-width="1"/>
<text x="37.60" y="864.10" font-size="8.2" text-anchor="end" fill="#000" stroke="#000" stroke-width="0.22" textLength="7.3" lengthAdjust="spacingAndGlyphs">-5</text>
<line x1="38.30" y1="832.50" x2="41.80" y2="832.50" stroke="#000" stroke-width="1"/>
<text x="37.60" y="835.25" font-size="8.2" text-anchor="end" fill="#000" stroke="#000" stroke-width="0.22" textLength="4.5" lengthAdjust="spacingAndGlyphs">0</text>
<line x1="38.30" y1="803.50" x2="41.80" y2="803.50" stroke="#000" stroke-width="1"/>
<text x="37.60" y="806.40" font-size="8.2" text-anchor="end" fill="#000" stroke="#000" stroke-width="0.22" textLength="4.5" lengthAdjust="spacingAndGlyphs">5</text>
<line x1="38.30" y1="774.50" x2="41.80" y2="774.50" stroke="#000" stroke-width="1"/>
<text x="37.60" y="777.55" font-size="8.2" text-anchor="end" fill="#000" stroke="#000" stroke-width="0.22" textLength="9.0" lengthAdjust="spacingAndGlyphs">10</text>
<line x1="38.30" y1="745.50" x2="41.80" y2="745.50" stroke="#000" stroke-width="1"/>
<text x="37.60" y="748.70" font-size="8.2" text-anchor="end" fill="#000" stroke="#000" stroke-width="0.22" textLength="9.0" lengthAdjust="spacingAndGlyphs">15</text>
<line x1="63.50" y1="861.20" x2="63.50" y2="864.20" stroke="#000" stroke-width="1"/>
<text x="66.60" y="870.70" font-size="8.1" font-weight="bold" text-anchor="end" fill="#000" stroke="#000" stroke-width="0.08" transform="rotate(-45 66.60 870.70)">Inocula</text>
<line x1="96.50" y1="861.20" x2="96.50" y2="864.20" stroke="#000" stroke-width="1"/>
<text x="99.40" y="870.70" font-size="8.1" font-weight="bold" text-anchor="end" fill="#000" stroke="#000" stroke-width="0.08" transform="rotate(-45 99.40 870.70)">2dpi.</text>
<line x1="129.50" y1="861.20" x2="129.50" y2="864.20" stroke="#000" stroke-width="1"/>
<text x="132.30" y="870.70" font-size="8.1" font-weight="bold" text-anchor="end" fill="#000" stroke="#000" stroke-width="0.08" transform="rotate(-45 132.30 870.70)">4dpi.</text>
<line x1="52.60" y1="827.04" x2="74.60" y2="827.04" stroke="#111" stroke-width="1.5"/>
<circle cx="59.90" cy="827.04" r="2.20" fill="#9b9b9b" stroke="#444" stroke-width="0.55"/>
<circle cx="66.90" cy="827.04" r="2.20" fill="#9b9b9b" stroke="#444" stroke-width="0.55"/>
<line x1="62.40" y1="827.04" x2="64.80" y2="827.04" stroke="#111" stroke-width="2.0"/>
<line x1="85.40" y1="818.73" x2="107.40" y2="818.73" stroke="#111" stroke-width="1.5"/>
<line x1="96.50" y1="835.47" x2="96.50" y2="802.63" stroke="#111" stroke-width="1.3"/>
<line x1="91.15" y1="802.50" x2="101.65" y2="802.50" stroke="#111" stroke-width="1.3"/>
<line x1="91.15" y1="835.50" x2="101.65" y2="835.50" stroke="#111" stroke-width="1.3"/>
<circle cx="96.40" cy="782.15" r="2.35" fill="#f2ebcb" stroke="#3a3a3a" stroke-width="0.55"/>
<circle cx="96.40" cy="791.38" r="2.35" fill="#f2ebcb" stroke="#3a3a3a" stroke-width="0.55"/>
<circle cx="96.40" cy="808.69" r="2.35" fill="#f2ebcb" stroke="#3a3a3a" stroke-width="0.55"/>
<circle cx="96.40" cy="817.35" r="2.35" fill="#f2ebcb" stroke="#3a3a3a" stroke-width="0.55"/>
<circle cx="93.20" cy="826.00" r="2.35" fill="#f2ebcb" stroke="#3a3a3a" stroke-width="0.55"/>
<circle cx="99.60" cy="825.14" r="2.35" fill="#f2ebcb" stroke="#3a3a3a" stroke-width="0.55"/>
<circle cx="89.70" cy="829.47" r="2.35" fill="#f2ebcb" stroke="#3a3a3a" stroke-width="0.55"/>
<circle cx="93.20" cy="831.20" r="2.35" fill="#f2ebcb" stroke="#3a3a3a" stroke-width="0.55"/>
<circle cx="97.70" cy="831.48" r="2.35" fill="#f2ebcb" stroke="#3a3a3a" stroke-width="0.55"/>
<circle cx="103.50" cy="829.47" r="2.35" fill="#f2ebcb" stroke="#3a3a3a" stroke-width="0.55"/>
<circle cx="100.30" cy="830.04" r="2.35" fill="#f2ebcb" stroke="#3a3a3a" stroke-width="0.55"/>
<circle cx="95.10" cy="828.89" r="2.35" fill="#f2ebcb" stroke="#3a3a3a" stroke-width="0.55"/>
<line x1="118.55" y1="817.46" x2="140.05" y2="817.46" stroke="#111" stroke-width="1.5"/>
<line x1="129.50" y1="831.37" x2="129.50" y2="803.73" stroke="#111" stroke-width="1.3"/>
<line x1="124.05" y1="803.50" x2="134.55" y2="803.50" stroke="#111" stroke-width="1.3"/>
<line x1="124.05" y1="831.50" x2="134.55" y2="831.50" stroke="#111" stroke-width="1.3"/>
<circle cx="129.30" cy="785.32" r="2.35" fill="#8e7b34" stroke="#3a3a3a" stroke-width="0.55"/>
<circle cx="129.30" cy="793.40" r="2.35" fill="#8e7b34" stroke="#3a3a3a" stroke-width="0.55"/>
<circle cx="121.80" cy="817.35" r="2.35" fill="#8e7b34" stroke="#3a3a3a" stroke-width="0.55"/>
<circle cx="137.30" cy="817.06" r="2.35" fill="#8e7b34" stroke="#3a3a3a" stroke-width="0.55"/>
<circle cx="132.80" cy="819.66" r="2.35" fill="#8e7b34" stroke="#3a3a3a" stroke-width="0.55"/>
<circle cx="125.30" cy="821.73" r="2.35" fill="#8e7b34" stroke="#3a3a3a" stroke-width="0.55"/>
<circle cx="129.30" cy="821.73" r="2.35" fill="#8e7b34" stroke="#3a3a3a" stroke-width="0.55"/>
<circle cx="121.30" cy="824.85" r="2.35" fill="#8e7b34" stroke="#3a3a3a" stroke-width="0.55"/>
<circle cx="125.30" cy="826.58" r="2.35" fill="#8e7b34" stroke="#3a3a3a" stroke-width="0.55"/>
<circle cx="133.30" cy="826.75" r="2.35" fill="#8e7b34" stroke="#3a3a3a" stroke-width="0.55"/>
<circle cx="136.80" cy="825.43" r="2.35" fill="#8e7b34" stroke="#3a3a3a" stroke-width="0.55"/>
<circle cx="129.30" cy="831.37" r="2.35" fill="#8e7b34" stroke="#3a3a3a" stroke-width="0.55"/>
<text x="13.90" y="803.60" font-size="8.2" font-weight="bold" text-anchor="middle" fill="#000" stroke="#000" stroke-width="0.08" transform="rotate(-90 13.90 803.60)">Ratios G614 strain/Alpha variant</text>
<text x="23.30" y="803.60" font-size="7.9" text-anchor="middle" fill="#000" stroke="#000" stroke-width="0.22" transform="rotate(-90 23.30 803.60)">Lung</text>
<text x="196.60" y="724.70" font-size="17.5" font-weight="bold" text-anchor="start" fill="#000" stroke="#000" stroke-width="0.08">i</text>
<line x1="244.00" y1="825.50" x2="350.50" y2="825.50" stroke="#222" stroke-width="1" stroke-dasharray="1.1 2.3"/>
<line x1="242.50" y1="744.20" x2="242.50" y2="860.50" stroke="#000" stroke-width="1"/>
<line x1="241.70" y1="860.50" x2="352.80" y2="860.50" stroke="#000" stroke-width="1"/>
<line x1="238.80" y1="860.50" x2="242.30" y2="860.50" stroke="#000" stroke-width="1"/>
<text x="238.10" y="862.90" font-size="8" font-weight="bold" text-anchor="end" fill="#000" stroke="#000" stroke-width="0.08" textLength="6.8" lengthAdjust="spacingAndGlyphs">-5</text>
<line x1="238.80" y1="831.50" x2="242.30" y2="831.50" stroke="#000" stroke-width="1"/>
<text x="238.10" y="834.07" font-size="8" font-weight="bold" text-anchor="end" fill="#000" stroke="#000" stroke-width="0.08" textLength="4.0" lengthAdjust="spacingAndGlyphs">0</text>
<line x1="238.80" y1="802.50" x2="242.30" y2="802.50" stroke="#000" stroke-width="1"/>
<text x="238.10" y="805.25" font-size="8" font-weight="bold" text-anchor="end" fill="#000" stroke="#000" stroke-width="0.08" textLength="4.0" lengthAdjust="spacingAndGlyphs">5</text>
<line x1="238.80" y1="773.50" x2="242.30" y2="773.50" stroke="#000" stroke-width="1"/>
<text x="238.10" y="776.43" font-size="8" font-weight="bold" text-anchor="end" fill="#000" stroke="#000" stroke-width="0.08" textLength="8.0" lengthAdjust="spacingAndGlyphs">10</text>
<line x1="238.80" y1="744.50" x2="242.30" y2="744.50" stroke="#000" stroke-width="1"/>
<text x="238.10" y="747.60" font-size="8" font-weight="bold" text-anchor="end" fill="#000" stroke="#000" stroke-width="0.08" textLength="8.0" lengthAdjust="spacingAndGlyphs">15</text>
<line x1="264.50" y1="860.00" x2="264.50" y2="863.00" stroke="#000" stroke-width="1"/>
<text x="267.50" y="869.50" font-size="8.1" font-weight="bold" text-anchor="end" fill="#000" stroke="#000" stroke-width="0.08" transform="rotate(-45 267.50 869.50)">Inocula</text>
<line x1="297.50" y1="860.00" x2="297.50" y2="863.00" stroke="#000" stroke-width="1"/>
<text x="300.20" y="869.50" font-size="8.1" font-weight="bold" text-anchor="end" fill="#000" stroke="#000" stroke-width="0.08" transform="rotate(-45 300.20 869.50)">2dpi.</text>
<line x1="330.50" y1="860.00" x2="330.50" y2="863.00" stroke="#000" stroke-width="1"/>
<text x="333.00" y="869.50" font-size="8.1" font-weight="bold" text-anchor="end" fill="#000" stroke="#000" stroke-width="0.08" transform="rotate(-45 333.00 869.50)">4dpi.</text>
<line x1="253.50" y1="825.58" x2="275.50" y2="825.58" stroke="#111" stroke-width="1.5"/>
<circle cx="260.70" cy="825.58" r="2.20" fill="#9b9b9b" stroke="#444" stroke-width="0.55"/>
<circle cx="267.80" cy="825.58" r="2.20" fill="#9b9b9b" stroke="#444" stroke-width="0.55"/>
<line x1="263.30" y1="825.58" x2="265.70" y2="825.58" stroke="#111" stroke-width="2.0"/>
<line x1="286.45" y1="821.95" x2="307.95" y2="821.95" stroke="#111" stroke-width="1.5"/>
<line x1="297.50" y1="827.14" x2="297.50" y2="816.19" stroke="#111" stroke-width="1.3"/>
<line x1="291.95" y1="816.50" x2="302.45" y2="816.50" stroke="#111" stroke-width="1.3"/>
<line x1="291.95" y1="827.50" x2="302.45" y2="827.50" stroke="#111" stroke-width="1.3"/>
<circle cx="290.50" cy="812.73" r="2.35" fill="#f2ebcb" stroke="#3a3a3a" stroke-width="0.55"/>
<circle cx="297.20" cy="813.59" r="2.35" fill="#f2ebcb" stroke="#3a3a3a" stroke-width="0.55"/>
<circle cx="307.30" cy="813.59" r="2.35" fill="#f2ebcb" stroke="#3a3a3a" stroke-width="0.55"/>
<circle cx="303.60" cy="818.26" r="2.35" fill="#f2ebcb" stroke="#3a3a3a" stroke-width="0.55"/>
<circle cx="290.50" cy="821.09" r="2.35" fill="#f2ebcb" stroke="#3a3a3a" stroke-width="0.55"/>
<circle cx="296.70" cy="821.37" r="2.35" fill="#f2ebcb" stroke="#3a3a3a" stroke-width="0.55"/>
<circle cx="293.70" cy="824.83" r="2.35" fill="#f2ebcb" stroke="#3a3a3a" stroke-width="0.55"/>
<circle cx="300.40" cy="824.55" r="2.35" fill="#f2ebcb" stroke="#3a3a3a" stroke-width="0.55"/>
<circle cx="303.60" cy="824.83" r="2.35" fill="#f2ebcb" stroke="#3a3a3a" stroke-width="0.55"/>
<circle cx="291.60" cy="825.99" r="2.35" fill="#f2ebcb" stroke="#3a3a3a" stroke-width="0.55"/>
<circle cx="295.30" cy="829.73" r="2.35" fill="#f2ebcb" stroke="#3a3a3a" stroke-width="0.55"/>
<circle cx="299.30" cy="828.00" r="2.35" fill="#f2ebcb" stroke="#3a3a3a" stroke-width="0.55"/>
<line x1="319.10" y1="803.39" x2="340.90" y2="803.39" stroke="#111" stroke-width="1.5"/>
<line x1="330.50" y1="819.64" x2="330.50" y2="786.96" stroke="#111" stroke-width="1.3"/>
<line x1="324.75" y1="786.50" x2="335.25" y2="786.50" stroke="#111" stroke-width="1.3"/>
<line x1="324.75" y1="819.50" x2="335.25" y2="819.50" stroke="#111" stroke-width="1.3"/>
<circle cx="330.00" cy="765.28" r="2.35" fill="#8e7b34" stroke="#3a3a3a" stroke-width="0.55"/>
<circle cx="330.00" cy="783.50" r="2.35" fill="#8e7b34" stroke="#3a3a3a" stroke-width="0.55"/>
<circle cx="330.00" cy="792.15" r="2.35" fill="#8e7b34" stroke="#3a3a3a" stroke-width="0.55"/>
<circle cx="333.50" cy="797.39" r="2.35" fill="#8e7b34" stroke="#3a3a3a" stroke-width="0.55"/>
<circle cx="326.50" cy="799.70" r="2.35" fill="#8e7b34" stroke="#3a3a3a" stroke-width="0.55"/>
<circle cx="330.00" cy="810.08" r="2.35" fill="#8e7b34" stroke="#3a3a3a" stroke-width="0.55"/>
<circle cx="333.50" cy="811.06" r="2.35" fill="#8e7b34" stroke="#3a3a3a" stroke-width="0.55"/>
<circle cx="335.70" cy="813.30" r="2.35" fill="#8e7b34" stroke="#3a3a3a" stroke-width="0.55"/>
<circle cx="326.50" cy="813.07" r="2.35" fill="#8e7b34" stroke="#3a3a3a" stroke-width="0.55"/>
<circle cx="324.30" cy="817.28" r="2.35" fill="#8e7b34" stroke="#3a3a3a" stroke-width="0.55"/>
<circle cx="328.20" cy="818.09" r="2.35" fill="#8e7b34" stroke="#3a3a3a" stroke-width="0.55"/>
<circle cx="332.00" cy="818.09" r="2.35" fill="#8e7b34" stroke="#3a3a3a" stroke-width="0.55"/>
<line x1="299.30" y1="741.50" x2="328.00" y2="741.50" stroke="#939393" stroke-width="1"/>
<text x="312.30" y="741.30" font-size="9.6" font-weight="bold" text-anchor="middle" fill="#1a1a1a" stroke="#1a1a1a" stroke-width="0.08">***</text>
<line x1="264.00" y1="756.50" x2="329.80" y2="756.50" stroke="#939393" stroke-width="1"/>
<text x="295.20" y="757.60" font-size="9.6" font-weight="bold" text-anchor="middle" fill="#1a1a1a" stroke="#1a1a1a" stroke-width="0.08">*</text>
<text x="214.60" y="802.90" font-size="8.2" font-weight="bold" text-anchor="middle" fill="#000" stroke="#000" stroke-width="0.08" transform="rotate(-90 214.60 802.90)">Ratios G614 strain/Alpha variant</text>
<text x="224.10" y="802.90" font-size="7.9" text-anchor="middle" fill="#000" stroke="#000" stroke-width="0.22" transform="rotate(-90 224.10 802.90)">Nasal wash</text>
<line x1="396.50" y1="484.20" x2="396.50" y2="902.00" stroke="#333" stroke-width="1.3"/>
<text x="436.80" y="499.70" font-size="17.5" font-weight="bold" text-anchor="start" fill="#000" stroke="#000" stroke-width="0.08">j</text>
<line x1="484.30" y1="624.50" x2="683.00" y2="624.50" stroke="#222" stroke-width="1" stroke-dasharray="1.1 2.3"/>
<rect x="490.50" y="562.50" width="12.00" height="69.00" fill="#ff0000" stroke="#000" stroke-width="1.1"/>
<line x1="496.50" y1="562.03" x2="496.50" y2="545.30" stroke="#000" stroke-width="1"/>
<line x1="492.75" y1="545.50" x2="499.95" y2="545.50" stroke="#000" stroke-width="1"/>
<path d="M496.40 539.07L498.65 543.32L494.15 543.32Z" fill="#000" stroke="#fff" stroke-width="1.1" stroke-linejoin="round" paint-order="stroke" stroke-opacity="0.85"/>
<path d="M496.40 558.48L498.65 562.73L494.15 562.73Z" fill="#000" stroke="#fff" stroke-width="1.1" stroke-linejoin="round" paint-order="stroke" stroke-opacity="0.85"/>
<path d="M496.40 572.88L498.65 577.12L494.15 577.12Z" fill="#000" stroke="#fff" stroke-width="1.1" stroke-linejoin="round" paint-order="stroke" stroke-opacity="0.85"/>
<path d="M496.40 588.98L498.65 593.23L494.15 593.23Z" fill="#000" stroke="#fff" stroke-width="1.1" stroke-linejoin="round" paint-order="stroke" stroke-opacity="0.85"/>
<rect x="509.50" y="562.50" width="12.00" height="69.00" fill="#0000ff" stroke="#000" stroke-width="1.1"/>
<line x1="515.50" y1="562.03" x2="515.50" y2="546.50" stroke="#000" stroke-width="1"/>
<line x1="511.80" y1="546.50" x2="519.00" y2="546.50" stroke="#000" stroke-width="1"/>
<path d="M515.70 539.57L517.95 543.82L513.45 543.82Z" fill="#000" stroke="#fff" stroke-width="1.1" stroke-linejoin="round" paint-order="stroke" stroke-opacity="0.85"/>
<path d="M515.70 562.38L517.95 566.62L513.45 566.62Z" fill="#000" stroke="#fff" stroke-width="1.1" stroke-linejoin="round" paint-order="stroke" stroke-opacity="0.85"/>
<path d="M512.20 576.38L514.45 580.62L509.95 580.62Z" fill="#000" stroke="#fff" stroke-width="1.1" stroke-linejoin="round" paint-order="stroke" stroke-opacity="0.85"/>
<path d="M518.70 574.57L520.95 578.82L516.45 578.82Z" fill="#000" stroke="#fff" stroke-width="1.1" stroke-linejoin="round" paint-order="stroke" stroke-opacity="0.85"/>
<rect x="540.50" y="573.50" width="13.00" height="58.00" fill="#ff0000" stroke="#000" stroke-width="1.1"/>
<line x1="547.50" y1="573.91" x2="547.50" y2="565.10" stroke="#000" stroke-width="1"/>
<line x1="543.70" y1="565.50" x2="550.90" y2="565.50" stroke="#000" stroke-width="1"/>
<path d="M544.10 568.48L546.35 572.73L541.85 572.73Z" fill="#000" stroke="#fff" stroke-width="1.1" stroke-linejoin="round" paint-order="stroke" stroke-opacity="0.85"/>
<path d="M547.20 562.88L549.45 567.12L544.95 567.12Z" fill="#000" stroke="#fff" stroke-width="1.1" stroke-linejoin="round" paint-order="stroke" stroke-opacity="0.85"/>
<path d="M550.20 574.07L552.45 578.32L547.95 578.32Z" fill="#000" stroke="#fff" stroke-width="1.1" stroke-linejoin="round" paint-order="stroke" stroke-opacity="0.85"/>
<path d="M547.20 586.38L549.45 590.62L544.95 590.62Z" fill="#000" stroke="#fff" stroke-width="1.1" stroke-linejoin="round" paint-order="stroke" stroke-opacity="0.85"/>
<rect x="560.50" y="543.50" width="12.00" height="88.00" fill="#0000ff" stroke="#000" stroke-width="1.1"/>
<line x1="566.50" y1="543.33" x2="566.50" y2="530.40" stroke="#000" stroke-width="1"/>
<line x1="562.80" y1="530.50" x2="570.00" y2="530.50" stroke="#000" stroke-width="1"/>
<path d="M563.40 533.98L565.65 538.23L561.15 538.23Z" fill="#000" stroke="#fff" stroke-width="1.1" stroke-linejoin="round" paint-order="stroke" stroke-opacity="0.85"/>
<path d="M569.50 528.17L571.75 532.42L567.25 532.42Z" fill="#000" stroke="#fff" stroke-width="1.1" stroke-linejoin="round" paint-order="stroke" stroke-opacity="0.85"/>
<path d="M566.50 545.38L568.75 549.62L564.25 549.62Z" fill="#000" stroke="#fff" stroke-width="1.1" stroke-linejoin="round" paint-order="stroke" stroke-opacity="0.85"/>
<path d="M566.50 573.17L568.75 577.42L564.25 577.42Z" fill="#000" stroke="#fff" stroke-width="1.1" stroke-linejoin="round" paint-order="stroke" stroke-opacity="0.85"/>
<rect x="591.50" y="621.50" width="13.00" height="10.00" fill="#ff0000" stroke="#000" stroke-width="1.1"/>
<line x1="598.50" y1="621.17" x2="598.50" y2="614.50" stroke="#000" stroke-width="1"/>
<line x1="594.70" y1="614.50" x2="601.90" y2="614.50" stroke="#000" stroke-width="1"/>
<path d="M594.80 622.77L597.05 627.02L592.55 627.02Z" fill="#000" stroke="#fff" stroke-width="1.1" stroke-linejoin="round" paint-order="stroke" stroke-opacity="0.85"/>
<path d="M597.90 622.77L600.15 627.02L595.65 627.02Z" fill="#000" stroke="#fff" stroke-width="1.1" stroke-linejoin="round" paint-order="stroke" stroke-opacity="0.85"/>
<path d="M601.30 622.77L603.55 627.02L599.05 627.02Z" fill="#000" stroke="#fff" stroke-width="1.1" stroke-linejoin="round" paint-order="stroke" stroke-opacity="0.85"/>
<path d="M598.30 609.67L600.55 613.92L596.05 613.92Z" fill="#000" stroke="#fff" stroke-width="1.1" stroke-linejoin="round" paint-order="stroke" stroke-opacity="0.85"/>
<rect x="611.50" y="606.50" width="12.00" height="25.00" fill="#0000ff" stroke="#000" stroke-width="1.1"/>
<line x1="617.50" y1="606.10" x2="617.50" y2="597.00" stroke="#000" stroke-width="1"/>
<line x1="613.80" y1="597.50" x2="621.00" y2="597.50" stroke="#000" stroke-width="1"/>
<path d="M614.00 600.88L616.25 605.12L611.75 605.12Z" fill="#000" stroke="#fff" stroke-width="1.1" stroke-linejoin="round" paint-order="stroke" stroke-opacity="0.85"/>
<path d="M617.20 595.67L619.45 599.92L614.95 599.92Z" fill="#000" stroke="#fff" stroke-width="1.1" stroke-linejoin="round" paint-order="stroke" stroke-opacity="0.85"/>
<path d="M620.70 603.48L622.95 607.73L618.45 607.73Z" fill="#000" stroke="#fff" stroke-width="1.1" stroke-linejoin="round" paint-order="stroke" stroke-opacity="0.85"/>
<path d="M617.20 622.48L619.45 626.73L614.95 626.73Z" fill="#000" stroke="#fff" stroke-width="1.1" stroke-linejoin="round" paint-order="stroke" stroke-opacity="0.85"/>
<rect x="642.50" y="567.50" width="13.00" height="64.00" fill="#ff0000" stroke="#000" stroke-width="1.1"/>
<line x1="649.50" y1="567.60" x2="649.50" y2="557.60" stroke="#000" stroke-width="1"/>
<line x1="645.55" y1="557.50" x2="652.75" y2="557.50" stroke="#000" stroke-width="1"/>
<path d="M645.90 575.98L648.15 580.23L643.65 580.23Z" fill="#000" stroke="#fff" stroke-width="1.1" stroke-linejoin="round" paint-order="stroke" stroke-opacity="0.85"/>
<path d="M652.60 572.88L654.85 577.12L650.35 577.12Z" fill="#000" stroke="#fff" stroke-width="1.1" stroke-linejoin="round" paint-order="stroke" stroke-opacity="0.85"/>
<path d="M649.40 555.38L651.65 559.62L647.15 559.62Z" fill="#000" stroke="#fff" stroke-width="1.1" stroke-linejoin="round" paint-order="stroke" stroke-opacity="0.85"/>
<path d="M649.40 563.17L651.65 567.42L647.15 567.42Z" fill="#000" stroke="#fff" stroke-width="1.1" stroke-linejoin="round" paint-order="stroke" stroke-opacity="0.85"/>
<rect x="661.50" y="557.50" width="13.00" height="74.00" fill="#0000ff" stroke="#000" stroke-width="1.1"/>
<line x1="668.50" y1="557.72" x2="668.50" y2="546.20" stroke="#000" stroke-width="1"/>
<line x1="664.75" y1="546.50" x2="671.95" y2="546.50" stroke="#000" stroke-width="1"/>
<path d="M668.40 543.07L670.65 547.32L666.15 547.32Z" fill="#000" stroke="#fff" stroke-width="1.1" stroke-linejoin="round" paint-order="stroke" stroke-opacity="0.85"/>
<path d="M668.40 552.67L670.65 556.92L666.15 556.92Z" fill="#000" stroke="#fff" stroke-width="1.1" stroke-linejoin="round" paint-order="stroke" stroke-opacity="0.85"/>
<path d="M668.40 563.77L670.65 568.02L666.15 568.02Z" fill="#000" stroke="#fff" stroke-width="1.1" stroke-linejoin="round" paint-order="stroke" stroke-opacity="0.85"/>
<path d="M668.40 572.88L670.65 577.12L666.15 577.12Z" fill="#000" stroke="#fff" stroke-width="1.1" stroke-linejoin="round" paint-order="stroke" stroke-opacity="0.85"/>
<line x1="483.50" y1="515.90" x2="483.50" y2="631.80" stroke="#000" stroke-width="1"/>
<line x1="482.70" y1="631.50" x2="682.20" y2="631.50" stroke="#000" stroke-width="1"/>
<line x1="479.80" y1="608.50" x2="483.30" y2="608.50" stroke="#000" stroke-width="1"/>
<text x="479.30" y="611.60" font-size="8.0" font-weight="bold" text-anchor="end" fill="#000" stroke="#000" stroke-width="0.08" textLength="8.0" lengthAdjust="spacingAndGlyphs">16</text>
<line x1="479.80" y1="585.50" x2="483.30" y2="585.50" stroke="#000" stroke-width="1"/>
<text x="479.30" y="588.52" font-size="8.0" font-weight="bold" text-anchor="end" fill="#000" stroke="#000" stroke-width="0.08" textLength="8.0" lengthAdjust="spacingAndGlyphs">32</text>
<line x1="479.80" y1="562.50" x2="483.30" y2="562.50" stroke="#000" stroke-width="1"/>
<text x="479.30" y="565.45" font-size="8.0" font-weight="bold" text-anchor="end" fill="#000" stroke="#000" stroke-width="0.08" textLength="8.0" lengthAdjust="spacingAndGlyphs">64</text>
<line x1="479.80" y1="539.50" x2="483.30" y2="539.50" stroke="#000" stroke-width="1"/>
<text x="479.30" y="542.38" font-size="8.0" font-weight="bold" text-anchor="end" fill="#000" stroke="#000" stroke-width="0.08" textLength="12.0" lengthAdjust="spacingAndGlyphs">128</text>
<line x1="479.80" y1="516.50" x2="483.30" y2="516.50" stroke="#000" stroke-width="1"/>
<text x="479.30" y="519.30" font-size="8.0" font-weight="bold" text-anchor="end" fill="#000" stroke="#000" stroke-width="0.08" textLength="12.0" lengthAdjust="spacingAndGlyphs">256</text>
<line x1="479.80" y1="624.50" x2="483.30" y2="624.50" stroke="#000" stroke-width="1"/>
<line x1="505.50" y1="631.30" x2="505.50" y2="634.30" stroke="#000" stroke-width="1"/>
<text x="505.90" y="642.90" font-size="7.8" text-anchor="middle" fill="#111" stroke="#111" stroke-width="0.22">G614 strain</text>
<line x1="556.50" y1="631.30" x2="556.50" y2="634.30" stroke="#000" stroke-width="1"/>
<text x="556.40" y="642.90" font-size="7.8" text-anchor="middle" fill="#111" stroke="#111" stroke-width="0.22">Alpha variant</text>
<line x1="607.50" y1="631.30" x2="607.50" y2="634.30" stroke="#000" stroke-width="1"/>
<text x="607.60" y="642.90" font-size="7.8" text-anchor="middle" fill="#111" stroke="#111" stroke-width="0.22">Beta variant</text>
<line x1="658.50" y1="631.30" x2="658.50" y2="634.30" stroke="#000" stroke-width="1"/>
<text x="658.70" y="642.90" font-size="7.8" text-anchor="middle" fill="#111" stroke="#111" stroke-width="0.22">Delta variant</text>
<text x="582.50" y="659.20" font-size="8.2" font-weight="bold" text-anchor="middle" fill="#000" stroke="#000" stroke-width="0.08">Viral strain used for neutralisation</text>
<text x="442.30" y="572.10" font-size="8.0" font-weight="bold" text-anchor="middle" fill="#000" stroke="#000" stroke-width="0.08" transform="rotate(-90 442.30 572.10)">90% inhibition yield reduction</text>
<text x="451.60" y="575.00" font-size="8.4" font-weight="bold" text-anchor="middle" fill="#000" stroke="#000" stroke-width="0.08" transform="rotate(-90 451.60 575.00)">neutralisation titers</text>
<text x="460.40" y="574.20" font-size="8.4" text-anchor="middle" fill="#000" stroke="#000" stroke-width="0.22" transform="rotate(-90 460.40 574.20)">YRNT90</text>
<text x="433.70" y="693.60" font-size="17.5" font-weight="bold" text-anchor="start" fill="#000" stroke="#000" stroke-width="0.08">k</text>
<line x1="484.30" y1="824.50" x2="683.00" y2="824.50" stroke="#222" stroke-width="1" stroke-dasharray="1.1 2.3"/>
<rect x="490.50" y="757.50" width="12.00" height="74.00" fill="#ff0000" stroke="#000" stroke-width="1.1"/>
<line x1="496.50" y1="757.33" x2="496.50" y2="735.70" stroke="#000" stroke-width="1"/>
<line x1="492.75" y1="735.50" x2="499.95" y2="735.50" stroke="#000" stroke-width="1"/>
<path d="M496.40 728.17L498.65 732.42L494.15 732.42Z" fill="#000" stroke="#fff" stroke-width="1.1" stroke-linejoin="round" paint-order="stroke" stroke-opacity="0.85"/>
<path d="M496.40 753.27L498.65 757.52L494.15 757.52Z" fill="#000" stroke="#fff" stroke-width="1.1" stroke-linejoin="round" paint-order="stroke" stroke-opacity="0.85"/>
<path d="M493.30 792.98L495.55 797.23L491.05 797.23Z" fill="#000" stroke="#fff" stroke-width="1.1" stroke-linejoin="round" paint-order="stroke" stroke-opacity="0.85"/>
<path d="M499.40 789.17L501.65 793.42L497.15 793.42Z" fill="#000" stroke="#fff" stroke-width="1.1" stroke-linejoin="round" paint-order="stroke" stroke-opacity="0.85"/>
<rect x="509.50" y="773.50" width="12.00" height="58.00" fill="#0000ff" stroke="#000" stroke-width="1.1"/>
<line x1="515.50" y1="773.33" x2="515.50" y2="757.20" stroke="#000" stroke-width="1"/>
<line x1="511.80" y1="757.50" x2="519.00" y2="757.50" stroke="#000" stroke-width="1"/>
<path d="M515.70 749.77L517.95 754.02L513.45 754.02Z" fill="#000" stroke="#fff" stroke-width="1.1" stroke-linejoin="round" paint-order="stroke" stroke-opacity="0.85"/>
<path d="M515.70 777.27L517.95 781.52L513.45 781.52Z" fill="#000" stroke="#fff" stroke-width="1.1" stroke-linejoin="round" paint-order="stroke" stroke-opacity="0.85"/>
<path d="M512.20 788.07L514.45 792.32L509.95 792.32Z" fill="#000" stroke="#fff" stroke-width="1.1" stroke-linejoin="round" paint-order="stroke" stroke-opacity="0.85"/>
<path d="M518.70 785.07L520.95 789.32L516.45 789.32Z" fill="#000" stroke="#fff" stroke-width="1.1" stroke-linejoin="round" paint-order="stroke" stroke-opacity="0.85"/>
<rect x="540.50" y="786.50" width="13.00" height="45.00" fill="#ff0000" stroke="#000" stroke-width="1.1"/>
<line x1="547.50" y1="786.12" x2="547.50" y2="769.50" stroke="#000" stroke-width="1"/>
<line x1="543.70" y1="769.50" x2="550.90" y2="769.50" stroke="#000" stroke-width="1"/>
<path d="M547.20 766.17L549.45 770.42L544.95 770.42Z" fill="#000" stroke="#fff" stroke-width="1.1" stroke-linejoin="round" paint-order="stroke" stroke-opacity="0.85"/>
<path d="M547.20 775.98L549.45 780.23L544.95 780.23Z" fill="#000" stroke="#fff" stroke-width="1.1" stroke-linejoin="round" paint-order="stroke" stroke-opacity="0.85"/>
<path d="M547.20 804.07L549.45 808.32L544.95 808.32Z" fill="#000" stroke="#fff" stroke-width="1.1" stroke-linejoin="round" paint-order="stroke" stroke-opacity="0.85"/>
<path d="M547.20 816.27L549.45 820.52L544.95 820.52Z" fill="#000" stroke="#fff" stroke-width="1.1" stroke-linejoin="round" paint-order="stroke" stroke-opacity="0.85"/>
<rect x="560.50" y="757.50" width="12.00" height="74.00" fill="#0000ff" stroke="#000" stroke-width="1.1"/>
<line x1="566.50" y1="757.33" x2="566.50" y2="747.40" stroke="#000" stroke-width="1"/>
<line x1="562.80" y1="747.50" x2="570.00" y2="747.50" stroke="#000" stroke-width="1"/>
<path d="M563.40 752.17L565.65 756.42L561.15 756.42Z" fill="#000" stroke="#fff" stroke-width="1.1" stroke-linejoin="round" paint-order="stroke" stroke-opacity="0.85"/>
<path d="M569.50 746.57L571.75 750.82L567.25 750.82Z" fill="#000" stroke="#fff" stroke-width="1.1" stroke-linejoin="round" paint-order="stroke" stroke-opacity="0.85"/>
<path d="M566.50 753.57L568.75 757.82L564.25 757.82Z" fill="#000" stroke="#fff" stroke-width="1.1" stroke-linejoin="round" paint-order="stroke" stroke-opacity="0.85"/>
<path d="M566.50 774.57L568.75 778.82L564.25 778.82Z" fill="#000" stroke="#fff" stroke-width="1.1" stroke-linejoin="round" paint-order="stroke" stroke-opacity="0.85"/>
<rect x="591.50" y="824.50" width="13.00" height="7.00" fill="#ff0000" stroke="#000" stroke-width="1.1"/>
<path d="M594.40 822.77L596.65 827.02L592.15 827.02Z" fill="#000" stroke="#fff" stroke-width="1.1" stroke-linejoin="round" paint-order="stroke" stroke-opacity="0.85"/>
<path d="M597.40 822.27L599.65 826.52L595.15 826.52Z" fill="#000" stroke="#fff" stroke-width="1.1" stroke-linejoin="round" paint-order="stroke" stroke-opacity="0.85"/>
<path d="M599.20 822.77L601.45 827.02L596.95 827.02Z" fill="#000" stroke="#fff" stroke-width="1.1" stroke-linejoin="round" paint-order="stroke" stroke-opacity="0.85"/>
<path d="M601.40 820.17L603.65 824.42L599.15 824.42Z" fill="#000" stroke="#fff" stroke-width="1.1" stroke-linejoin="round" paint-order="stroke" stroke-opacity="0.85"/>
<rect x="611.50" y="821.50" width="12.00" height="10.00" fill="#0000ff" stroke="#000" stroke-width="1.1"/>
<line x1="617.50" y1="821.67" x2="617.50" y2="815.70" stroke="#000" stroke-width="1"/>
<line x1="613.80" y1="815.50" x2="621.00" y2="815.50" stroke="#000" stroke-width="1"/>
<path d="M614.00 819.77L616.25 824.02L611.75 824.02Z" fill="#000" stroke="#fff" stroke-width="1.1" stroke-linejoin="round" paint-order="stroke" stroke-opacity="0.85"/>
<path d="M617.20 813.17L619.45 817.42L614.95 817.42Z" fill="#000" stroke="#fff" stroke-width="1.1" stroke-linejoin="round" paint-order="stroke" stroke-opacity="0.85"/>
<path d="M617.20 822.77L619.45 827.02L614.95 827.02Z" fill="#000" stroke="#fff" stroke-width="1.1" stroke-linejoin="round" paint-order="stroke" stroke-opacity="0.85"/>
<path d="M620.70 822.77L622.95 827.02L618.45 827.02Z" fill="#000" stroke="#fff" stroke-width="1.1" stroke-linejoin="round" paint-order="stroke" stroke-opacity="0.85"/>
<rect x="642.50" y="798.50" width="13.00" height="33.00" fill="#ff0000" stroke="#000" stroke-width="1.1"/>
<line x1="649.50" y1="798.60" x2="649.50" y2="788.70" stroke="#000" stroke-width="1"/>
<line x1="645.55" y1="788.50" x2="652.75" y2="788.50" stroke="#000" stroke-width="1"/>
<path d="M645.90 794.27L648.15 798.52L643.65 798.52Z" fill="#000" stroke="#fff" stroke-width="1.1" stroke-linejoin="round" paint-order="stroke" stroke-opacity="0.85"/>
<path d="M652.60 797.07L654.85 801.32L650.35 801.32Z" fill="#000" stroke="#fff" stroke-width="1.1" stroke-linejoin="round" paint-order="stroke" stroke-opacity="0.85"/>
<path d="M649.40 785.98L651.65 790.23L647.15 790.23Z" fill="#000" stroke="#fff" stroke-width="1.1" stroke-linejoin="round" paint-order="stroke" stroke-opacity="0.85"/>
<path d="M649.40 822.77L651.65 827.02L647.15 827.02Z" fill="#000" stroke="#fff" stroke-width="1.1" stroke-linejoin="round" paint-order="stroke" stroke-opacity="0.85"/>
<rect x="661.50" y="773.50" width="13.00" height="58.00" fill="#0000ff" stroke="#000" stroke-width="1.1"/>
<line x1="668.50" y1="773.33" x2="668.50" y2="762.80" stroke="#000" stroke-width="1"/>
<line x1="664.75" y1="762.50" x2="671.95" y2="762.50" stroke="#000" stroke-width="1"/>
<path d="M665.20 767.98L667.45 772.23L662.95 772.23Z" fill="#000" stroke="#fff" stroke-width="1.1" stroke-linejoin="round" paint-order="stroke" stroke-opacity="0.85"/>
<path d="M671.50 770.77L673.75 775.02L669.25 775.02Z" fill="#000" stroke="#fff" stroke-width="1.1" stroke-linejoin="round" paint-order="stroke" stroke-opacity="0.85"/>
<path d="M668.40 760.27L670.65 764.52L666.15 764.52Z" fill="#000" stroke="#fff" stroke-width="1.1" stroke-linejoin="round" paint-order="stroke" stroke-opacity="0.85"/>
<path d="M668.40 794.27L670.65 798.52L666.15 798.52Z" fill="#000" stroke="#fff" stroke-width="1.1" stroke-linejoin="round" paint-order="stroke" stroke-opacity="0.85"/>
<line x1="483.50" y1="716.40" x2="483.50" y2="832.00" stroke="#000" stroke-width="1"/>
<line x1="482.70" y1="831.50" x2="682.20" y2="831.50" stroke="#000" stroke-width="1"/>
<line x1="479.80" y1="809.50" x2="483.30" y2="809.50" stroke="#000" stroke-width="1"/>
<text x="479.30" y="812.10" font-size="8.0" font-weight="bold" text-anchor="end" fill="#000" stroke="#000" stroke-width="0.08" textLength="8.0" lengthAdjust="spacingAndGlyphs">16</text>
<line x1="479.80" y1="786.50" x2="483.30" y2="786.50" stroke="#000" stroke-width="1"/>
<text x="479.30" y="789.02" font-size="8.0" font-weight="bold" text-anchor="end" fill="#000" stroke="#000" stroke-width="0.08" textLength="8.0" lengthAdjust="spacingAndGlyphs">32</text>
<line x1="479.80" y1="763.50" x2="483.30" y2="763.50" stroke="#000" stroke-width="1"/>
<text x="479.30" y="765.95" font-size="8.0" font-weight="bold" text-anchor="end" fill="#000" stroke="#000" stroke-width="0.08" textLength="8.0" lengthAdjust="spacingAndGlyphs">64</text>
<line x1="479.80" y1="739.50" x2="483.30" y2="739.50" stroke="#000" stroke-width="1"/>
<text x="479.30" y="742.88" font-size="8.0" font-weight="bold" text-anchor="end" fill="#000" stroke="#000" stroke-width="0.08" textLength="12.0" lengthAdjust="spacingAndGlyphs">128</text>
<line x1="479.80" y1="716.50" x2="483.30" y2="716.50" stroke="#000" stroke-width="1"/>
<text x="479.30" y="719.80" font-size="8.0" font-weight="bold" text-anchor="end" fill="#000" stroke="#000" stroke-width="0.08" textLength="12.0" lengthAdjust="spacingAndGlyphs">256</text>
<line x1="479.80" y1="824.50" x2="483.30" y2="824.50" stroke="#000" stroke-width="1"/>
<line x1="505.50" y1="831.50" x2="505.50" y2="834.50" stroke="#000" stroke-width="1"/>
<text x="505.90" y="842.90" font-size="7.8" text-anchor="middle" fill="#111" stroke="#111" stroke-width="0.22">G614 strain</text>
<line x1="556.50" y1="831.50" x2="556.50" y2="834.50" stroke="#000" stroke-width="1"/>
<text x="556.40" y="842.90" font-size="7.8" text-anchor="middle" fill="#111" stroke="#111" stroke-width="0.22">Alpha variant</text>
<line x1="607.50" y1="831.50" x2="607.50" y2="834.50" stroke="#000" stroke-width="1"/>
<text x="607.60" y="842.90" font-size="7.8" text-anchor="middle" fill="#111" stroke="#111" stroke-width="0.22">Beta variant</text>
<line x1="658.50" y1="831.50" x2="658.50" y2="834.50" stroke="#000" stroke-width="1"/>
<text x="658.70" y="842.90" font-size="7.8" text-anchor="middle" fill="#111" stroke="#111" stroke-width="0.22">Delta variant</text>
<text x="582.50" y="859.00" font-size="8.2" font-weight="bold" text-anchor="middle" fill="#000" stroke="#000" stroke-width="0.08">Viral strain used for neutralisation</text>
<text x="442.30" y="772.50" font-size="8.0" font-weight="bold" text-anchor="middle" fill="#000" stroke="#000" stroke-width="0.08" transform="rotate(-90 442.30 772.50)">99% inhibition yield reduction</text>
<text x="451.60" y="775.40" font-size="8.4" font-weight="bold" text-anchor="middle" fill="#000" stroke="#000" stroke-width="0.08" transform="rotate(-90 451.60 775.40)">neutralisation titers</text>
<text x="460.40" y="774.60" font-size="8.4" text-anchor="middle" fill="#000" stroke="#000" stroke-width="0.22" transform="rotate(-90 460.40 774.60)">YRNT99</text>
<line x1="478.70" y1="868.50" x2="684.50" y2="868.50" stroke="#a0a0a0" stroke-width="1"/>
<line x1="478.50" y1="868.80" x2="478.50" y2="903.50" stroke="#777" stroke-width="1"/>
<line x1="684.50" y1="868.80" x2="684.50" y2="903.50" stroke="#666" stroke-width="1"/>
<line x1="478.70" y1="903.50" x2="684.50" y2="903.50" stroke="#444" stroke-width="1"/>
<text x="486.20" y="881.30" font-size="7.9" text-anchor="start" fill="#111" stroke="#111" stroke-width="0.22">Viral strain used for infection :</text>
<rect x="603.50" y="876.50" width="12.00" height="4.00" fill="#ff0000" stroke="#000" stroke-width="1.1"/>
<text x="622.00" y="881.30" font-size="7.9" text-anchor="start" fill="#111" stroke="#111" stroke-width="0.22">G614 strain</text>
<rect x="603.50" y="891.50" width="12.00" height="5.00" fill="#0000ff" stroke="#000" stroke-width="1.1"/>
<text x="622.00" y="897.00" font-size="7.9" text-anchor="start" fill="#111" stroke="#111" stroke-width="0.22">Alpha variant</text>
</svg>
</body></html>
